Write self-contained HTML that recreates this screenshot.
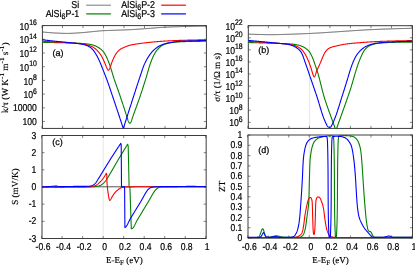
<!DOCTYPE html>
<html><head><meta charset="utf-8"><title>chart</title>
<style>html,body{margin:0;padding:0;background:#fff;}body{width:415px;height:267px;overflow:hidden;font-family:"Liberation Sans",sans-serif;}svg{display:block;will-change:transform;text-rendering:geometricPrecision}text{fill:#000;stroke:#000;stroke-width:0.22px}text.lab{stroke-width:0.15px}</style>
</head><body>
<svg width="415" height="267" viewBox="0 0 415 267">
<rect width="415" height="267" fill="#fff"/>
<defs>
<clipPath id="cpa"><rect x="42.4" y="25.6" width="164.0" height="102.80000000000001"/></clipPath>
<clipPath id="cpb"><rect x="248.3" y="25.7" width="164.09999999999997" height="102.7"/></clipPath>
<clipPath id="cpc"><rect x="42.0" y="135.5" width="164.15" height="103.0"/></clipPath>
<clipPath id="cpd"><rect x="248.0" y="135.0" width="164.5" height="103.0"/></clipPath>
</defs>
<line x1="103.50" y1="25.6" x2="103.50" y2="128.4" stroke="#cfcfcf" stroke-width="0.5"/>
<line x1="309.44" y1="25.7" x2="309.44" y2="128.4" stroke="#cfcfcf" stroke-width="0.5"/>
<line x1="103.16" y1="135.5" x2="103.16" y2="238.5" stroke="#cfcfcf" stroke-width="0.5"/>
<line x1="309.29" y1="135.0" x2="309.29" y2="238.0" stroke="#cfcfcf" stroke-width="0.5"/>
<rect x="42.4" y="25.6" width="164.0" height="102.80000000000001" fill="none" stroke="#333" stroke-width="0.95"/>
<path d="M42.00,128.4 v-2.5 M42.00,25.6 v2.5" stroke="#333" stroke-width="0.6"/>
<path d="M62.50,128.4 v-2.5 M62.50,25.6 v2.5" stroke="#333" stroke-width="0.6"/>
<path d="M83.00,128.4 v-2.5 M83.00,25.6 v2.5" stroke="#333" stroke-width="0.6"/>
<path d="M103.50,128.4 v-2.5 M103.50,25.6 v2.5" stroke="#333" stroke-width="0.6"/>
<path d="M124.00,128.4 v-2.5 M124.00,25.6 v2.5" stroke="#333" stroke-width="0.6"/>
<path d="M144.50,128.4 v-2.5 M144.50,25.6 v2.5" stroke="#333" stroke-width="0.6"/>
<path d="M165.00,128.4 v-2.5 M165.00,25.6 v2.5" stroke="#333" stroke-width="0.6"/>
<path d="M185.50,128.4 v-2.5 M185.50,25.6 v2.5" stroke="#333" stroke-width="0.6"/>
<path d="M206.00,128.4 v-2.5 M206.00,25.6 v2.5" stroke="#333" stroke-width="0.6"/>
<path d="M42.4,25.60 h2.5 M206.4,25.60 h-2.5" stroke="#333" stroke-width="0.6"/>
<text transform="translate(36.80,29.70) scale(0.86,1)" text-anchor="end" font-family="Liberation Sans, sans-serif" font-size="10.0">10<tspan dy="-4.7" font-size="8.0">16</tspan></text>
<path d="M42.4,39.31 h2.5 M206.4,39.31 h-2.5" stroke="#333" stroke-width="0.6"/>
<text transform="translate(36.80,43.41) scale(0.86,1)" text-anchor="end" font-family="Liberation Sans, sans-serif" font-size="10.0">10<tspan dy="-4.7" font-size="8.0">14</tspan></text>
<path d="M42.4,53.01 h2.5 M206.4,53.01 h-2.5" stroke="#333" stroke-width="0.6"/>
<text transform="translate(36.80,57.11) scale(0.86,1)" text-anchor="end" font-family="Liberation Sans, sans-serif" font-size="10.0">10<tspan dy="-4.7" font-size="8.0">12</tspan></text>
<path d="M42.4,66.72 h2.5 M206.4,66.72 h-2.5" stroke="#333" stroke-width="0.6"/>
<text transform="translate(36.80,70.82) scale(0.86,1)" text-anchor="end" font-family="Liberation Sans, sans-serif" font-size="10.0">10<tspan dy="-4.7" font-size="8.0">10</tspan></text>
<path d="M42.4,80.43 h2.5 M206.4,80.43 h-2.5" stroke="#333" stroke-width="0.6"/>
<text transform="translate(36.80,84.53) scale(0.86,1)" text-anchor="end" font-family="Liberation Sans, sans-serif" font-size="10.0">10<tspan dy="-4.7" font-size="8.0">8</tspan></text>
<path d="M42.4,94.13 h2.5 M206.4,94.13 h-2.5" stroke="#333" stroke-width="0.6"/>
<text transform="translate(36.80,98.23) scale(0.86,1)" text-anchor="end" font-family="Liberation Sans, sans-serif" font-size="10.0">10<tspan dy="-4.7" font-size="8.0">6</tspan></text>
<path d="M42.4,107.84 h2.5 M206.4,107.84 h-2.5" stroke="#333" stroke-width="0.6"/>
<text transform="translate(36.80,110.99) scale(0.86,1)" text-anchor="end" font-family="Liberation Sans, sans-serif" font-size="10.0">10000</text>
<path d="M42.4,121.55 h2.5 M206.4,121.55 h-2.5" stroke="#333" stroke-width="0.6"/>
<text transform="translate(36.80,124.70) scale(0.86,1)" text-anchor="end" font-family="Liberation Sans, sans-serif" font-size="10.0">100</text>
<rect x="248.3" y="25.7" width="164.09999999999997" height="102.7" fill="none" stroke="#333" stroke-width="0.95"/>
<path d="M247.90,128.4 v-2.5 M247.90,25.7 v2.5" stroke="#333" stroke-width="0.6"/>
<path d="M268.41,128.4 v-2.5 M268.41,25.7 v2.5" stroke="#333" stroke-width="0.6"/>
<path d="M288.93,128.4 v-2.5 M288.93,25.7 v2.5" stroke="#333" stroke-width="0.6"/>
<path d="M309.44,128.4 v-2.5 M309.44,25.7 v2.5" stroke="#333" stroke-width="0.6"/>
<path d="M329.95,128.4 v-2.5 M329.95,25.7 v2.5" stroke="#333" stroke-width="0.6"/>
<path d="M350.46,128.4 v-2.5 M350.46,25.7 v2.5" stroke="#333" stroke-width="0.6"/>
<path d="M370.98,128.4 v-2.5 M370.98,25.7 v2.5" stroke="#333" stroke-width="0.6"/>
<path d="M391.49,128.4 v-2.5 M391.49,25.7 v2.5" stroke="#333" stroke-width="0.6"/>
<path d="M412.00,128.4 v-2.5 M412.00,25.7 v2.5" stroke="#333" stroke-width="0.6"/>
<path d="M248.3,25.70 h2.5 M412.4,25.70 h-2.5" stroke="#333" stroke-width="0.6"/>
<text transform="translate(242.70,29.80) scale(0.86,1)" text-anchor="end" font-family="Liberation Sans, sans-serif" font-size="10.0">10<tspan dy="-4.7" font-size="8.0">22</tspan></text>
<path d="M248.3,37.78 h2.5 M412.4,37.78 h-2.5" stroke="#333" stroke-width="0.6"/>
<text transform="translate(242.70,41.88) scale(0.86,1)" text-anchor="end" font-family="Liberation Sans, sans-serif" font-size="10.0">10<tspan dy="-4.7" font-size="8.0">20</tspan></text>
<path d="M248.3,49.86 h2.5 M412.4,49.86 h-2.5" stroke="#333" stroke-width="0.6"/>
<text transform="translate(242.70,53.96) scale(0.86,1)" text-anchor="end" font-family="Liberation Sans, sans-serif" font-size="10.0">10<tspan dy="-4.7" font-size="8.0">18</tspan></text>
<path d="M248.3,61.95 h2.5 M412.4,61.95 h-2.5" stroke="#333" stroke-width="0.6"/>
<text transform="translate(242.70,66.05) scale(0.86,1)" text-anchor="end" font-family="Liberation Sans, sans-serif" font-size="10.0">10<tspan dy="-4.7" font-size="8.0">16</tspan></text>
<path d="M248.3,74.03 h2.5 M412.4,74.03 h-2.5" stroke="#333" stroke-width="0.6"/>
<text transform="translate(242.70,78.13) scale(0.86,1)" text-anchor="end" font-family="Liberation Sans, sans-serif" font-size="10.0">10<tspan dy="-4.7" font-size="8.0">14</tspan></text>
<path d="M248.3,86.11 h2.5 M412.4,86.11 h-2.5" stroke="#333" stroke-width="0.6"/>
<text transform="translate(242.70,90.21) scale(0.86,1)" text-anchor="end" font-family="Liberation Sans, sans-serif" font-size="10.0">10<tspan dy="-4.7" font-size="8.0">12</tspan></text>
<path d="M248.3,98.19 h2.5 M412.4,98.19 h-2.5" stroke="#333" stroke-width="0.6"/>
<text transform="translate(242.70,102.29) scale(0.86,1)" text-anchor="end" font-family="Liberation Sans, sans-serif" font-size="10.0">10<tspan dy="-4.7" font-size="8.0">10</tspan></text>
<path d="M248.3,110.28 h2.5 M412.4,110.28 h-2.5" stroke="#333" stroke-width="0.6"/>
<text transform="translate(242.70,114.38) scale(0.86,1)" text-anchor="end" font-family="Liberation Sans, sans-serif" font-size="10.0">10<tspan dy="-4.7" font-size="8.0">8</tspan></text>
<path d="M248.3,122.36 h2.5 M412.4,122.36 h-2.5" stroke="#333" stroke-width="0.6"/>
<text transform="translate(242.70,126.46) scale(0.86,1)" text-anchor="end" font-family="Liberation Sans, sans-serif" font-size="10.0">10<tspan dy="-4.7" font-size="8.0">6</tspan></text>
<rect x="42.0" y="135.5" width="164.15" height="103.0" fill="none" stroke="#333" stroke-width="0.95"/>
<path d="M41.60,238.5 v-2.5 M41.60,135.5 v2.5" stroke="#333" stroke-width="0.6"/>
<path d="M62.12,238.5 v-2.5 M62.12,135.5 v2.5" stroke="#333" stroke-width="0.6"/>
<path d="M82.64,238.5 v-2.5 M82.64,135.5 v2.5" stroke="#333" stroke-width="0.6"/>
<path d="M103.16,238.5 v-2.5 M103.16,135.5 v2.5" stroke="#333" stroke-width="0.6"/>
<path d="M123.67,238.5 v-2.5 M123.67,135.5 v2.5" stroke="#333" stroke-width="0.6"/>
<path d="M144.19,238.5 v-2.5 M144.19,135.5 v2.5" stroke="#333" stroke-width="0.6"/>
<path d="M164.71,238.5 v-2.5 M164.71,135.5 v2.5" stroke="#333" stroke-width="0.6"/>
<path d="M185.23,238.5 v-2.5 M185.23,135.5 v2.5" stroke="#333" stroke-width="0.6"/>
<path d="M205.75,238.5 v-2.5 M205.75,135.5 v2.5" stroke="#333" stroke-width="0.6"/>
<path d="M42.0,135.50 h2.5 M206.15,135.50 h-2.5" stroke="#333" stroke-width="0.6"/>
<text transform="translate(36.40,138.65) scale(0.86,1)" text-anchor="end" font-family="Liberation Sans, sans-serif" font-size="10.0">3</text>
<path d="M42.0,152.67 h2.5 M206.15,152.67 h-2.5" stroke="#333" stroke-width="0.6"/>
<text transform="translate(36.40,155.82) scale(0.86,1)" text-anchor="end" font-family="Liberation Sans, sans-serif" font-size="10.0">2</text>
<path d="M42.0,169.83 h2.5 M206.15,169.83 h-2.5" stroke="#333" stroke-width="0.6"/>
<text transform="translate(36.40,172.98) scale(0.86,1)" text-anchor="end" font-family="Liberation Sans, sans-serif" font-size="10.0">1</text>
<path d="M42.0,187.00 h2.5 M206.15,187.00 h-2.5" stroke="#333" stroke-width="0.6"/>
<text transform="translate(36.40,190.15) scale(0.86,1)" text-anchor="end" font-family="Liberation Sans, sans-serif" font-size="10.0">0</text>
<path d="M42.0,204.17 h2.5 M206.15,204.17 h-2.5" stroke="#333" stroke-width="0.6"/>
<text transform="translate(36.40,207.32) scale(0.86,1)" text-anchor="end" font-family="Liberation Sans, sans-serif" font-size="10.0">-1</text>
<path d="M42.0,221.33 h2.5 M206.15,221.33 h-2.5" stroke="#333" stroke-width="0.6"/>
<text transform="translate(36.40,224.48) scale(0.86,1)" text-anchor="end" font-family="Liberation Sans, sans-serif" font-size="10.0">-2</text>
<path d="M42.0,238.50 h2.5 M206.15,238.50 h-2.5" stroke="#333" stroke-width="0.6"/>
<text transform="translate(36.40,241.65) scale(0.86,1)" text-anchor="end" font-family="Liberation Sans, sans-serif" font-size="10.0">-3</text>
<text transform="translate(43.00,250.40) scale(0.86,1)" text-anchor="middle" font-family="Liberation Sans, sans-serif" font-size="10.0">-0.6</text>
<text transform="translate(63.52,250.40) scale(0.86,1)" text-anchor="middle" font-family="Liberation Sans, sans-serif" font-size="10.0">-0.4</text>
<text transform="translate(84.04,250.40) scale(0.86,1)" text-anchor="middle" font-family="Liberation Sans, sans-serif" font-size="10.0">-0.2</text>
<text transform="translate(104.56,250.40) scale(0.86,1)" text-anchor="middle" font-family="Liberation Sans, sans-serif" font-size="10.0">0</text>
<text transform="translate(125.08,250.40) scale(0.86,1)" text-anchor="middle" font-family="Liberation Sans, sans-serif" font-size="10.0">0.2</text>
<text transform="translate(145.59,250.40) scale(0.86,1)" text-anchor="middle" font-family="Liberation Sans, sans-serif" font-size="10.0">0.4</text>
<text transform="translate(166.11,250.40) scale(0.86,1)" text-anchor="middle" font-family="Liberation Sans, sans-serif" font-size="10.0">0.6</text>
<text transform="translate(186.63,250.40) scale(0.86,1)" text-anchor="middle" font-family="Liberation Sans, sans-serif" font-size="10.0">0.8</text>
<text transform="translate(207.15,250.40) scale(0.86,1)" text-anchor="middle" font-family="Liberation Sans, sans-serif" font-size="10.0">1</text>
<text x="124.38" y="262.9" text-anchor="middle" class="lab" font-family="Liberation Serif, serif" font-size="9.0">E-E<tspan dy="2.5" font-size="7">F</tspan><tspan dy="-2.5"> (eV)</tspan></text>
<rect x="248.0" y="135.0" width="164.5" height="103.0" fill="none" stroke="#333" stroke-width="0.95"/>
<path d="M247.60,238.0 v-2.5 M247.60,135.0 v2.5" stroke="#333" stroke-width="0.6"/>
<path d="M268.16,238.0 v-2.5 M268.16,135.0 v2.5" stroke="#333" stroke-width="0.6"/>
<path d="M288.73,238.0 v-2.5 M288.73,135.0 v2.5" stroke="#333" stroke-width="0.6"/>
<path d="M309.29,238.0 v-2.5 M309.29,135.0 v2.5" stroke="#333" stroke-width="0.6"/>
<path d="M329.85,238.0 v-2.5 M329.85,135.0 v2.5" stroke="#333" stroke-width="0.6"/>
<path d="M350.41,238.0 v-2.5 M350.41,135.0 v2.5" stroke="#333" stroke-width="0.6"/>
<path d="M370.98,238.0 v-2.5 M370.98,135.0 v2.5" stroke="#333" stroke-width="0.6"/>
<path d="M391.54,238.0 v-2.5 M391.54,135.0 v2.5" stroke="#333" stroke-width="0.6"/>
<path d="M412.10,238.0 v-2.5 M412.10,135.0 v2.5" stroke="#333" stroke-width="0.6"/>
<path d="M248.0,135.00 h2.5 M412.5,135.00 h-2.5" stroke="#333" stroke-width="0.6"/>
<text transform="translate(242.40,138.15) scale(0.86,1)" text-anchor="end" font-family="Liberation Sans, sans-serif" font-size="10.0">1</text>
<path d="M248.0,145.30 h2.5 M412.5,145.30 h-2.5" stroke="#333" stroke-width="0.6"/>
<text transform="translate(242.40,148.45) scale(0.86,1)" text-anchor="end" font-family="Liberation Sans, sans-serif" font-size="10.0">0.9</text>
<path d="M248.0,155.60 h2.5 M412.5,155.60 h-2.5" stroke="#333" stroke-width="0.6"/>
<text transform="translate(242.40,158.75) scale(0.86,1)" text-anchor="end" font-family="Liberation Sans, sans-serif" font-size="10.0">0.8</text>
<path d="M248.0,165.90 h2.5 M412.5,165.90 h-2.5" stroke="#333" stroke-width="0.6"/>
<text transform="translate(242.40,169.05) scale(0.86,1)" text-anchor="end" font-family="Liberation Sans, sans-serif" font-size="10.0">0.7</text>
<path d="M248.0,176.20 h2.5 M412.5,176.20 h-2.5" stroke="#333" stroke-width="0.6"/>
<text transform="translate(242.40,179.35) scale(0.86,1)" text-anchor="end" font-family="Liberation Sans, sans-serif" font-size="10.0">0.6</text>
<path d="M248.0,186.50 h2.5 M412.5,186.50 h-2.5" stroke="#333" stroke-width="0.6"/>
<text transform="translate(242.40,189.65) scale(0.86,1)" text-anchor="end" font-family="Liberation Sans, sans-serif" font-size="10.0">0.5</text>
<path d="M248.0,196.80 h2.5 M412.5,196.80 h-2.5" stroke="#333" stroke-width="0.6"/>
<text transform="translate(242.40,199.95) scale(0.86,1)" text-anchor="end" font-family="Liberation Sans, sans-serif" font-size="10.0">0.4</text>
<path d="M248.0,207.10 h2.5 M412.5,207.10 h-2.5" stroke="#333" stroke-width="0.6"/>
<text transform="translate(242.40,210.25) scale(0.86,1)" text-anchor="end" font-family="Liberation Sans, sans-serif" font-size="10.0">0.3</text>
<path d="M248.0,217.40 h2.5 M412.5,217.40 h-2.5" stroke="#333" stroke-width="0.6"/>
<text transform="translate(242.40,220.55) scale(0.86,1)" text-anchor="end" font-family="Liberation Sans, sans-serif" font-size="10.0">0.2</text>
<path d="M248.0,227.70 h2.5 M412.5,227.70 h-2.5" stroke="#333" stroke-width="0.6"/>
<text transform="translate(242.40,230.85) scale(0.86,1)" text-anchor="end" font-family="Liberation Sans, sans-serif" font-size="10.0">0.1</text>
<path d="M248.0,238.00 h2.5 M412.5,238.00 h-2.5" stroke="#333" stroke-width="0.6"/>
<text transform="translate(242.40,241.15) scale(0.86,1)" text-anchor="end" font-family="Liberation Sans, sans-serif" font-size="10.0">0</text>
<text transform="translate(249.30,250.40) scale(0.86,1)" text-anchor="middle" font-family="Liberation Sans, sans-serif" font-size="10.0">-0.6</text>
<text transform="translate(269.86,250.40) scale(0.86,1)" text-anchor="middle" font-family="Liberation Sans, sans-serif" font-size="10.0">-0.4</text>
<text transform="translate(290.43,250.40) scale(0.86,1)" text-anchor="middle" font-family="Liberation Sans, sans-serif" font-size="10.0">-0.2</text>
<text transform="translate(310.99,250.40) scale(0.86,1)" text-anchor="middle" font-family="Liberation Sans, sans-serif" font-size="10.0">0</text>
<text transform="translate(331.55,250.40) scale(0.86,1)" text-anchor="middle" font-family="Liberation Sans, sans-serif" font-size="10.0">0.2</text>
<text transform="translate(352.11,250.40) scale(0.86,1)" text-anchor="middle" font-family="Liberation Sans, sans-serif" font-size="10.0">0.4</text>
<text transform="translate(372.68,250.40) scale(0.86,1)" text-anchor="middle" font-family="Liberation Sans, sans-serif" font-size="10.0">0.6</text>
<text transform="translate(393.24,250.40) scale(0.86,1)" text-anchor="middle" font-family="Liberation Sans, sans-serif" font-size="10.0">0.8</text>
<text transform="translate(413.80,250.40) scale(0.86,1)" text-anchor="middle" font-family="Liberation Sans, sans-serif" font-size="10.0">1</text>
<text x="330.55" y="262.9" text-anchor="middle" class="lab" font-family="Liberation Serif, serif" font-size="9.0">E-E<tspan dy="2.5" font-size="7">F</tspan><tspan dy="-2.5"> (eV)</tspan></text>
<path d="M42.00,31.90 L42.50,31.96 L42.99,32.01 L43.49,32.06 L43.99,32.12 L44.48,32.17 L44.98,32.22 L45.48,32.27 L45.98,32.32 L46.47,32.37 L46.97,32.42 L47.47,32.46 L47.97,32.51 L48.46,32.55 L48.96,32.59 L49.46,32.64 L49.96,32.68 L50.45,32.71 L50.95,32.75 L51.45,32.79 L51.95,32.82 L52.45,32.86 L52.94,32.89 L53.44,32.92 L53.94,32.95 L54.44,32.97 L54.94,33.00 L55.44,33.02 L55.93,33.04 L56.43,33.07 L56.93,33.09 L57.43,33.12 L57.93,33.14 L58.43,33.16 L58.93,33.19 L59.43,33.21 L59.93,33.23 L60.42,33.25 L60.92,33.27 L61.42,33.29 L61.92,33.30 L62.42,33.32 L62.92,33.34 L63.42,33.35 L63.92,33.36 L64.42,33.37 L64.92,33.38 L65.42,33.39 L65.92,33.40 L66.42,33.40 L66.91,33.40 L67.41,33.40 L67.91,33.40 L68.41,33.39 L68.91,33.38 L69.41,33.37 L69.91,33.35 L70.41,33.34 L70.91,33.32 L71.41,33.30 L71.91,33.28 L72.40,33.26 L72.90,33.23 L73.40,33.21 L73.90,33.18 L74.40,33.15 L74.90,33.12 L75.40,33.09 L75.90,33.06 L76.40,33.03 L76.89,33.00 L77.39,32.97 L77.89,32.93 L78.39,32.90 L78.89,32.87 L79.39,32.84 L79.88,32.81 L80.38,32.78 L80.88,32.74 L81.38,32.71 L81.88,32.67 L82.37,32.63 L82.87,32.59 L83.37,32.54 L83.87,32.50 L84.36,32.45 L84.86,32.41 L85.36,32.36 L85.85,32.31 L86.35,32.26 L86.85,32.21 L87.35,32.16 L87.84,32.11 L88.34,32.06 L88.84,32.01 L89.33,31.96 L89.83,31.91 L90.33,31.86 L90.82,31.81 L91.32,31.76 L91.82,31.72 L92.32,31.67 L92.81,31.62 L93.31,31.58 L93.81,31.53 L94.31,31.48 L94.80,31.42 L95.30,31.37 L95.80,31.32 L96.29,31.27 L96.79,31.22 L97.29,31.17 L97.78,31.12 L98.28,31.07 L98.78,31.02 L99.28,30.98 L99.77,30.93 L100.27,30.89 L100.77,30.85 L101.27,30.81 L101.76,30.77 L102.26,30.74 L102.76,30.71 L103.26,30.69 L103.76,30.66 L104.25,30.64 L104.75,30.62 L105.25,30.59 L105.75,30.57 L106.25,30.55 L106.75,30.53 L107.25,30.52 L107.75,30.50 L108.24,30.48 L108.74,30.46 L109.24,30.45 L109.74,30.43 L110.24,30.42 L110.74,30.40 L111.24,30.39 L111.74,30.37 L112.24,30.36 L112.74,30.34 L113.24,30.32 L113.74,30.31 L114.24,30.29 L114.74,30.28 L115.23,30.26 L115.73,30.24 L116.23,30.23 L116.73,30.21 L117.23,30.19 L117.73,30.17 L118.23,30.16 L118.73,30.14 L119.23,30.12 L119.73,30.10 L120.23,30.08 L120.72,30.07 L121.22,30.05 L121.72,30.03 L122.22,30.01 L122.72,30.00 L123.22,29.98 L123.72,29.96 L124.22,29.94 L124.72,29.92 L125.22,29.91 L125.72,29.89 L126.21,29.87 L126.71,29.85 L127.21,29.83 L127.71,29.80 L128.21,29.78 L128.71,29.76 L129.21,29.74 L129.71,29.71 L130.20,29.69 L130.70,29.66 L131.20,29.64 L131.70,29.61 L132.20,29.58 L132.70,29.55 L133.20,29.53 L133.69,29.49 L134.19,29.46 L134.69,29.43 L135.19,29.40 L135.69,29.37 L136.19,29.33 L136.68,29.30 L137.18,29.26 L137.68,29.23 L138.18,29.19 L138.68,29.16 L139.17,29.12 L139.67,29.08 L140.17,29.04 L140.67,29.01 L141.17,28.97 L141.66,28.93 L142.16,28.89 L142.66,28.86 L143.16,28.82 L143.66,28.78 L144.15,28.74 L144.65,28.70 L145.15,28.66 L145.65,28.63 L146.15,28.59 L146.64,28.55 L147.14,28.51 L147.64,28.47 L148.14,28.44 L148.64,28.40 L149.13,28.36 L149.63,28.33 L150.13,28.29 L150.63,28.25 L151.13,28.22 L151.62,28.18 L152.12,28.14 L152.62,28.10 L153.12,28.06 L153.62,28.02 L154.11,27.98 L154.61,27.94 L155.11,27.90 L155.61,27.86 L156.11,27.82 L156.60,27.78 L157.10,27.74 L157.60,27.70 L158.10,27.66 L158.59,27.62 L159.09,27.58 L159.59,27.54 L160.09,27.51 L160.59,27.47 L161.08,27.43 L161.58,27.40 L162.08,27.37 L162.58,27.34 L163.08,27.30 L163.58,27.28 L164.07,27.25 L164.57,27.22 L165.07,27.20 L165.57,27.17 L166.07,27.15 L166.57,27.13 L167.07,27.10 L167.56,27.08 L168.06,27.06 L168.56,27.04 L169.06,27.02 L169.56,27.00 L170.06,26.98 L170.56,26.96 L171.06,26.94 L171.56,26.92 L172.05,26.90 L172.55,26.89 L173.05,26.87 L173.55,26.85 L174.05,26.83 L174.55,26.82 L175.05,26.80 L175.55,26.78 L176.05,26.77 L176.55,26.75 L177.05,26.73 L177.54,26.72 L178.04,26.70 L178.54,26.69 L179.04,26.67 L179.54,26.66 L180.04,26.64 L180.54,26.63 L181.04,26.61 L181.54,26.60 L182.04,26.58 L182.54,26.57 L183.04,26.56 L183.54,26.54 L184.03,26.53 L184.53,26.51 L185.03,26.50 L185.53,26.48 L186.03,26.47 L186.53,26.46 L187.03,26.44 L187.53,26.43 L188.03,26.42 L188.53,26.40 L189.03,26.39 L189.53,26.38 L190.02,26.36 L190.52,26.35 L191.02,26.34 L191.52,26.32 L192.02,26.31 L192.52,26.30 L193.02,26.28 L193.52,26.27 L194.02,26.26 L194.52,26.25 L195.02,26.23 L195.52,26.22 L196.01,26.21 L196.51,26.20 L197.01,26.19 L197.51,26.18 L198.01,26.16 L198.51,26.15 L199.01,26.14 L199.51,26.13 L200.01,26.12 L200.51,26.11 L201.01,26.10 L201.51,26.09 L202.01,26.08 L202.50,26.07 L203.00,26.06 L203.50,26.05 L204.00,26.04 L204.50,26.03 L205.00,26.02 L205.50,26.01 L206.00,26.00" fill="none" stroke="#555" stroke-width="1.0" stroke-linejoin="round" stroke-linecap="butt" clip-path="url(#cpa)"/>
<path d="M42.00,42.30 L42.50,42.31 L43.00,42.32 L43.50,42.33 L44.00,42.35 L44.50,42.36 L45.00,42.37 L45.50,42.38 L46.00,42.39 L46.50,42.40 L47.00,42.41 L47.50,42.43 L48.00,42.44 L48.50,42.45 L48.99,42.46 L49.49,42.47 L49.99,42.48 L50.49,42.50 L50.99,42.51 L51.49,42.52 L51.99,42.53 L52.49,42.54 L52.99,42.55 L53.49,42.56 L53.99,42.58 L54.49,42.59 L54.99,42.60 L55.49,42.61 L55.99,42.62 L56.49,42.63 L56.99,42.64 L57.49,42.66 L57.99,42.67 L58.49,42.68 L58.99,42.69 L59.49,42.70 L59.99,42.71 L60.49,42.72 L60.99,42.73 L61.49,42.74 L61.99,42.75 L62.49,42.76 L62.99,42.77 L63.48,42.78 L63.98,42.79 L64.48,42.80 L64.98,42.81 L65.48,42.82 L65.98,42.83 L66.48,42.85 L66.98,42.86 L67.48,42.87 L67.98,42.88 L68.48,42.90 L68.98,42.91 L69.48,42.92 L69.98,42.94 L70.48,42.95 L70.98,42.97 L71.48,42.98 L71.98,43.00 L72.48,43.02 L72.98,43.03 L73.48,43.05 L73.98,43.07 L74.48,43.09 L74.98,43.11 L75.48,43.13 L75.98,43.15 L76.48,43.17 L76.98,43.19 L77.48,43.22 L77.97,43.24 L78.47,43.27 L78.97,43.29 L79.47,43.32 L79.97,43.35 L80.47,43.38 L80.97,43.41 L81.47,43.44 L81.97,43.47 L82.47,43.51 L82.96,43.54 L83.46,43.58 L83.96,43.62 L84.46,43.65 L84.95,43.70 L85.45,43.74 L85.95,43.79 L86.44,43.84 L86.94,43.90 L87.44,43.97 L87.94,44.04 L88.44,44.11 L88.93,44.19 L89.43,44.28 L89.92,44.37 L90.41,44.46 L90.90,44.56 L91.39,44.66 L91.87,44.77 L92.35,44.88 L92.83,45.02 L93.30,45.16 L93.78,45.32 L94.25,45.49 L94.72,45.68 L95.19,45.87 L95.65,46.07 L96.11,46.28 L96.56,46.49 L97.01,46.70 L97.45,46.93 L97.88,47.18 L98.31,47.44 L98.74,47.71 L99.16,47.99 L99.57,48.28 L99.97,48.57 L100.36,48.88 L100.76,49.19 L101.15,49.51 L101.54,49.83 L101.91,50.17 L102.27,50.52 L102.62,50.88 L102.95,51.24 L103.26,51.62 L103.56,52.01 L103.86,52.41 L104.14,52.82 L104.42,53.24 L104.69,53.67 L104.95,54.10 L105.20,54.54 L105.45,54.98 L105.69,55.42 L105.93,55.86 L106.15,56.30 L106.38,56.74 L106.59,57.19 L106.81,57.64 L107.02,58.10 L107.22,58.55 L107.42,59.01 L107.61,59.48 L107.81,59.94 L108.00,60.41 L108.18,60.87 L108.36,61.34 L108.55,61.81 L108.72,62.27 L108.90,62.74 L109.08,63.21 L109.25,63.67 L109.42,64.14 L109.59,64.61 L109.75,65.08 L109.92,65.55 L110.08,66.02 L110.24,66.50 L110.40,66.97 L110.55,67.45 L110.71,67.92 L110.86,68.40 L111.01,68.87 L111.16,69.35 L111.31,69.83 L111.46,70.30 L111.61,70.78 L111.76,71.26 L111.91,71.74 L112.05,72.22 L112.20,72.69 L112.35,73.17 L112.49,73.65 L112.64,74.13 L112.78,74.61 L112.93,75.09 L113.08,75.57 L113.23,76.04 L113.38,76.52 L113.53,77.00 L113.68,77.48 L113.83,77.95 L113.98,78.43 L114.14,78.90 L114.29,79.38 L114.45,79.85 L114.61,80.33 L114.77,80.80 L114.93,81.27 L115.09,81.75 L115.26,82.22 L115.42,82.69 L115.58,83.16 L115.75,83.63 L115.91,84.11 L116.08,84.58 L116.25,85.05 L116.41,85.52 L116.58,85.99 L116.75,86.46 L116.91,86.93 L117.08,87.40 L117.25,87.87 L117.42,88.35 L117.58,88.82 L117.75,89.29 L117.92,89.76 L118.09,90.23 L118.25,90.70 L118.42,91.17 L118.59,91.64 L118.75,92.11 L118.92,92.59 L119.08,93.06 L119.25,93.53 L119.41,94.00 L119.58,94.47 L119.74,94.95 L119.90,95.42 L120.06,95.89 L120.22,96.36 L120.38,96.84 L120.54,97.31 L120.70,97.78 L120.86,98.26 L121.02,98.73 L121.18,99.20 L121.34,99.68 L121.50,100.15 L121.66,100.63 L121.82,101.10 L121.97,101.57 L122.13,102.05 L122.29,102.52 L122.45,103.00 L122.60,103.47 L122.76,103.95 L122.92,104.42 L123.07,104.90 L123.23,105.37 L123.39,105.85 L123.54,106.32 L123.70,106.80 L123.85,107.27 L124.01,107.75 L124.16,108.22 L124.32,108.70 L124.47,109.17 L124.63,109.65 L124.78,110.12 L124.94,110.60 L125.09,111.07 L125.25,111.55 L125.40,112.02 L125.55,112.50 L125.71,112.97 L125.86,113.45 L126.02,113.92 L126.17,114.40 L126.32,114.88 L126.48,115.35 L126.63,115.83 L126.78,116.30 L126.94,116.78 L127.09,117.25 L127.24,117.73 L127.38,118.21 L127.52,118.71 L127.65,119.20 L127.78,119.69 L127.92,120.18 L128.07,120.65 L128.24,121.12 L128.43,121.56 L128.66,122.01 L128.96,122.52 L129.31,122.98 L129.65,123.26 L129.98,123.25 L130.32,122.95 L130.66,122.48 L130.96,121.97 L131.19,121.52 L131.39,121.08 L131.57,120.62 L131.73,120.15 L131.87,119.67 L132.02,119.18 L132.16,118.69 L132.30,118.20 L132.46,117.72 L132.62,117.25 L132.79,116.78 L132.95,116.30 L133.12,115.83 L133.28,115.36 L133.45,114.89 L133.62,114.42 L133.79,113.95 L133.96,113.48 L134.12,113.01 L134.29,112.54 L134.46,112.07 L134.63,111.60 L134.80,111.13 L134.97,110.66 L135.14,110.19 L135.31,109.72 L135.48,109.25 L135.66,108.78 L135.83,108.31 L136.00,107.84 L136.17,107.37 L136.34,106.90 L136.51,106.43 L136.68,105.96 L136.85,105.49 L137.02,105.02 L137.19,104.55 L137.36,104.08 L137.53,103.61 L137.70,103.14 L137.87,102.67 L138.04,102.20 L138.21,101.73 L138.37,101.26 L138.54,100.79 L138.71,100.32 L138.87,99.84 L139.04,99.37 L139.20,98.90 L139.37,98.43 L139.53,97.96 L139.69,97.48 L139.86,97.01 L140.02,96.54 L140.18,96.07 L140.34,95.59 L140.50,95.12 L140.66,94.65 L140.81,94.17 L140.97,93.70 L141.13,93.22 L141.29,92.75 L141.44,92.27 L141.60,91.80 L141.76,91.33 L141.91,90.85 L142.07,90.38 L142.22,89.90 L142.38,89.43 L142.53,88.95 L142.69,88.47 L142.84,88.00 L142.99,87.52 L143.15,87.05 L143.30,86.57 L143.45,86.10 L143.60,85.62 L143.76,85.14 L143.91,84.67 L144.06,84.19 L144.21,83.71 L144.36,83.24 L144.51,82.76 L144.66,82.28 L144.81,81.81 L144.96,81.33 L145.11,80.85 L145.26,80.38 L145.41,79.90 L145.56,79.42 L145.71,78.95 L145.85,78.47 L146.00,77.99 L146.15,77.51 L146.29,77.04 L146.44,76.56 L146.58,76.08 L146.72,75.60 L146.86,75.12 L147.00,74.63 L147.14,74.15 L147.27,73.67 L147.41,73.19 L147.55,72.71 L147.68,72.23 L147.82,71.74 L147.95,71.26 L148.09,70.78 L148.23,70.30 L148.37,69.82 L148.51,69.34 L148.65,68.86 L148.79,68.38 L148.93,67.90 L149.08,67.43 L149.23,66.95 L149.38,66.47 L149.53,66.00 L149.68,65.52 L149.84,65.05 L150.00,64.58 L150.16,64.11 L150.33,63.64 L150.50,63.17 L150.66,62.70 L150.84,62.23 L151.01,61.76 L151.18,61.29 L151.36,60.82 L151.54,60.35 L151.73,59.88 L151.91,59.41 L152.10,58.95 L152.29,58.48 L152.49,58.02 L152.69,57.56 L152.89,57.11 L153.10,56.65 L153.31,56.20 L153.52,55.75 L153.74,55.31 L153.97,54.86 L154.20,54.43 L154.44,53.99 L154.68,53.55 L154.94,53.12 L155.20,52.69 L155.47,52.27 L155.75,51.85 L156.04,51.44 L156.33,51.03 L156.62,50.64 L156.93,50.25 L157.25,49.86 L157.58,49.48 L157.92,49.11 L158.26,48.75 L158.61,48.39 L158.97,48.03 L159.32,47.68 L159.68,47.33 L160.05,46.98 L160.42,46.64 L160.80,46.31 L161.19,46.01 L161.60,45.74 L162.02,45.47 L162.45,45.22 L162.90,44.98 L163.35,44.75 L163.81,44.54 L164.27,44.35 L164.74,44.19 L165.20,44.04 L165.68,43.89 L166.15,43.75 L166.63,43.62 L167.12,43.49 L167.61,43.37 L168.10,43.25 L168.59,43.14 L169.08,43.03 L169.58,42.93 L170.07,42.84 L170.57,42.76 L171.07,42.68 L171.56,42.61 L172.06,42.54 L172.55,42.48 L173.04,42.43 L173.54,42.38 L174.03,42.32 L174.53,42.27 L175.02,42.22 L175.52,42.18 L176.02,42.13 L176.52,42.09 L177.01,42.04 L177.51,42.00 L178.01,41.96 L178.51,41.93 L179.01,41.89 L179.51,41.86 L180.01,41.82 L180.51,41.79 L181.01,41.76 L181.51,41.74 L182.01,41.71 L182.51,41.69 L183.01,41.67 L183.51,41.65 L184.01,41.63 L184.51,41.61 L185.01,41.60 L185.51,41.59 L186.01,41.57 L186.51,41.56 L187.01,41.55 L187.51,41.54 L188.01,41.53 L188.51,41.52 L189.01,41.51 L189.51,41.49 L190.00,41.48 L190.50,41.47 L191.00,41.46 L191.50,41.45 L192.00,41.44 L192.50,41.43 L193.00,41.43 L193.50,41.42 L194.00,41.41 L194.50,41.40 L195.00,41.39 L195.50,41.38 L196.00,41.38 L196.50,41.37 L197.00,41.36 L197.50,41.36 L198.00,41.35 L198.50,41.34 L199.00,41.34 L199.50,41.33 L200.00,41.33 L200.50,41.32 L201.00,41.32 L201.50,41.32 L202.00,41.31 L202.50,41.31 L203.00,41.31 L203.50,41.31 L204.00,41.30 L204.50,41.30 L205.00,41.30 L205.50,41.30 L206.00,41.30" fill="none" stroke="#008000" stroke-width="1.1" stroke-linejoin="round" stroke-linecap="butt" clip-path="url(#cpa)"/>
<path d="M42.00,41.20 L42.50,41.23 L43.00,41.26 L43.49,41.29 L43.99,41.32 L44.49,41.36 L44.99,41.39 L45.49,41.42 L45.99,41.45 L46.48,41.48 L46.98,41.51 L47.48,41.54 L47.98,41.57 L48.48,41.60 L48.97,41.63 L49.47,41.66 L49.97,41.69 L50.47,41.72 L50.97,41.76 L51.47,41.79 L51.96,41.82 L52.46,41.85 L52.96,41.88 L53.46,41.91 L53.96,41.94 L54.45,41.97 L54.95,42.00 L55.45,42.03 L55.95,42.06 L56.45,42.09 L56.95,42.11 L57.44,42.14 L57.94,42.17 L58.44,42.20 L58.94,42.23 L59.44,42.25 L59.94,42.28 L60.43,42.31 L60.93,42.33 L61.43,42.36 L61.93,42.39 L62.43,42.42 L62.93,42.44 L63.43,42.47 L63.92,42.50 L64.42,42.53 L64.92,42.55 L65.42,42.58 L65.92,42.61 L66.42,42.64 L66.91,42.67 L67.41,42.70 L67.91,42.73 L68.41,42.76 L68.91,42.79 L69.40,42.82 L69.90,42.85 L70.40,42.89 L70.90,42.92 L71.40,42.96 L71.89,42.99 L72.39,43.03 L72.89,43.06 L73.39,43.10 L73.89,43.14 L74.39,43.17 L74.88,43.21 L75.38,43.25 L75.88,43.28 L76.38,43.32 L76.88,43.36 L77.38,43.41 L77.88,43.45 L78.37,43.50 L78.87,43.54 L79.37,43.59 L79.86,43.64 L80.36,43.70 L80.85,43.76 L81.35,43.82 L81.84,43.88 L82.33,43.95 L82.82,44.02 L83.32,44.10 L83.81,44.19 L84.31,44.28 L84.80,44.38 L85.29,44.48 L85.79,44.59 L86.28,44.71 L86.77,44.83 L87.25,44.96 L87.73,45.09 L88.21,45.23 L88.69,45.37 L89.16,45.52 L89.63,45.67 L90.09,45.83 L90.55,46.00 L91.01,46.19 L91.47,46.40 L91.92,46.62 L92.38,46.85 L92.82,47.10 L93.26,47.35 L93.69,47.62 L94.11,47.89 L94.53,48.16 L94.93,48.45 L95.32,48.74 L95.70,49.04 L96.08,49.37 L96.45,49.70 L96.81,50.05 L97.17,50.41 L97.52,50.78 L97.86,51.16 L98.19,51.54 L98.52,51.92 L98.84,52.30 L99.15,52.68 L99.45,53.07 L99.75,53.47 L100.04,53.88 L100.33,54.29 L100.61,54.71 L100.89,55.13 L101.15,55.55 L101.41,55.98 L101.67,56.41 L101.91,56.84 L102.15,57.28 L102.38,57.72 L102.61,58.16 L102.83,58.61 L103.05,59.06 L103.26,59.51 L103.46,59.96 L103.67,60.42 L103.87,60.88 L104.07,61.34 L104.27,61.80 L104.46,62.26 L104.66,62.72 L104.86,63.18 L105.06,63.64 L105.25,64.10 L105.44,64.56 L105.62,65.03 L105.80,65.50 L105.98,65.97 L106.16,66.44 L106.35,66.90 L106.54,67.36 L106.75,67.81 L106.97,68.25 L107.21,68.73 L107.48,69.29 L107.75,69.80 L108.04,70.17 L108.33,70.30 L108.64,70.11 L108.97,69.70 L109.28,69.18 L109.56,68.68 L109.78,68.25 L109.99,67.81 L110.18,67.36 L110.36,66.90 L110.53,66.43 L110.69,65.95 L110.84,65.47 L110.99,64.99 L111.14,64.51 L111.29,64.02 L111.45,63.54 L111.61,63.06 L111.77,62.59 L111.95,62.12 L112.14,61.66 L112.33,61.19 L112.52,60.73 L112.71,60.27 L112.91,59.81 L113.11,59.35 L113.31,58.89 L113.52,58.43 L113.73,57.97 L113.94,57.52 L114.16,57.07 L114.39,56.63 L114.62,56.19 L114.85,55.76 L115.10,55.33 L115.35,54.90 L115.61,54.47 L115.88,54.05 L116.16,53.62 L116.45,53.21 L116.75,52.80 L117.05,52.40 L117.37,52.01 L117.69,51.64 L118.02,51.28 L118.37,50.93 L118.73,50.59 L119.11,50.26 L119.50,49.94 L119.91,49.64 L120.32,49.34 L120.73,49.07 L121.15,48.81 L121.58,48.56 L122.02,48.33 L122.46,48.11 L122.92,47.89 L123.38,47.69 L123.84,47.49 L124.30,47.29 L124.76,47.10 L125.23,46.91 L125.69,46.72 L126.15,46.53 L126.62,46.34 L127.08,46.15 L127.55,45.97 L128.02,45.80 L128.50,45.64 L128.97,45.48 L129.45,45.34 L129.92,45.22 L130.40,45.10 L130.89,44.99 L131.37,44.89 L131.86,44.79 L132.35,44.69 L132.84,44.60 L133.33,44.51 L133.82,44.42 L134.31,44.34 L134.81,44.26 L135.30,44.18 L135.80,44.10 L136.29,44.03 L136.79,43.95 L137.28,43.88 L137.78,43.81 L138.28,43.74 L138.77,43.67 L139.27,43.60 L139.76,43.53 L140.26,43.46 L140.75,43.40 L141.24,43.33 L141.74,43.26 L142.23,43.19 L142.73,43.13 L143.22,43.06 L143.72,43.00 L144.21,42.94 L144.71,42.88 L145.21,42.82 L145.70,42.76 L146.20,42.70 L146.69,42.64 L147.19,42.59 L147.69,42.53 L148.18,42.48 L148.68,42.43 L149.18,42.38 L149.67,42.33 L150.17,42.28 L150.67,42.24 L151.16,42.19 L151.66,42.14 L152.16,42.10 L152.65,42.05 L153.15,42.01 L153.65,41.96 L154.14,41.92 L154.64,41.88 L155.14,41.83 L155.64,41.79 L156.13,41.75 L156.63,41.70 L157.13,41.66 L157.63,41.62 L158.12,41.58 L158.62,41.54 L159.12,41.50 L159.62,41.46 L160.12,41.42 L160.61,41.39 L161.11,41.35 L161.61,41.31 L162.11,41.28 L162.61,41.24 L163.10,41.21 L163.60,41.17 L164.10,41.14 L164.60,41.11 L165.10,41.07 L165.59,41.04 L166.09,41.01 L166.59,40.98 L167.09,40.95 L167.59,40.93 L168.09,40.90 L168.58,40.87 L169.08,40.85 L169.58,40.82 L170.08,40.80 L170.58,40.77 L171.07,40.75 L171.57,40.73 L172.07,40.70 L172.57,40.68 L173.07,40.66 L173.57,40.64 L174.07,40.62 L174.56,40.60 L175.06,40.58 L175.56,40.56 L176.06,40.54 L176.56,40.52 L177.06,40.50 L177.56,40.48 L178.06,40.46 L178.55,40.44 L179.05,40.42 L179.55,40.41 L180.05,40.39 L180.55,40.37 L181.05,40.36 L181.55,40.34 L182.05,40.32 L182.55,40.31 L183.05,40.29 L183.54,40.28 L184.04,40.26 L184.54,40.25 L185.04,40.23 L185.54,40.22 L186.04,40.20 L186.54,40.19 L187.04,40.18 L187.54,40.16 L188.04,40.15 L188.53,40.14 L189.03,40.12 L189.53,40.11 L190.03,40.10 L190.53,40.09 L191.03,40.08 L191.53,40.06 L192.03,40.05 L192.53,40.04 L193.02,40.03 L193.52,40.02 L194.02,40.01 L194.52,40.00 L195.02,39.99 L195.52,39.97 L196.02,39.96 L196.52,39.95 L197.02,39.94 L197.52,39.93 L198.01,39.92 L198.51,39.92 L199.01,39.91 L199.51,39.90 L200.01,39.89 L200.51,39.88 L201.01,39.87 L201.51,39.86 L202.01,39.85 L202.51,39.85 L203.01,39.84 L203.50,39.83 L204.00,39.83 L204.50,39.82 L205.00,39.81 L205.50,39.81 L206.00,39.80" fill="none" stroke="#ff0000" stroke-width="1.1" stroke-linejoin="round" stroke-linecap="butt" clip-path="url(#cpa)"/>
<path d="M42.00,39.70 L42.50,39.76 L42.99,39.82 L43.49,39.88 L43.98,39.94 L44.48,40.00 L44.98,40.06 L45.47,40.12 L45.97,40.18 L46.47,40.24 L46.96,40.29 L47.46,40.35 L47.96,40.41 L48.45,40.47 L48.95,40.53 L49.44,40.58 L49.94,40.64 L50.44,40.70 L50.93,40.75 L51.43,40.81 L51.93,40.86 L52.42,40.92 L52.92,40.97 L53.42,41.03 L53.91,41.08 L54.41,41.14 L54.91,41.19 L55.41,41.24 L55.90,41.30 L56.40,41.35 L56.90,41.40 L57.39,41.45 L57.89,41.50 L58.39,41.55 L58.89,41.60 L59.38,41.64 L59.88,41.69 L60.38,41.74 L60.88,41.79 L61.37,41.83 L61.87,41.88 L62.37,41.93 L62.87,41.98 L63.36,42.02 L63.86,42.07 L64.36,42.12 L64.86,42.16 L65.36,42.21 L65.85,42.26 L66.35,42.31 L66.85,42.36 L67.34,42.41 L67.84,42.46 L68.34,42.51 L68.84,42.56 L69.33,42.61 L69.83,42.66 L70.33,42.71 L70.82,42.77 L71.32,42.82 L71.82,42.88 L72.31,42.94 L72.81,42.99 L73.31,43.05 L73.81,43.10 L74.31,43.16 L74.80,43.21 L75.30,43.26 L75.80,43.32 L76.30,43.38 L76.80,43.43 L77.30,43.49 L77.79,43.56 L78.29,43.62 L78.78,43.69 L79.28,43.75 L79.77,43.83 L80.27,43.90 L80.76,43.98 L81.25,44.06 L81.73,44.15 L82.22,44.24 L82.71,44.34 L83.20,44.45 L83.69,44.57 L84.19,44.69 L84.68,44.83 L85.16,44.97 L85.65,45.12 L86.13,45.27 L86.60,45.44 L87.06,45.61 L87.52,45.80 L87.97,45.98 L88.41,46.19 L88.84,46.42 L89.28,46.68 L89.71,46.95 L90.13,47.24 L90.55,47.55 L90.95,47.86 L91.33,48.19 L91.70,48.52 L92.05,48.85 L92.39,49.19 L92.72,49.55 L93.04,49.92 L93.35,50.31 L93.66,50.70 L93.96,51.10 L94.25,51.52 L94.53,51.94 L94.81,52.36 L95.09,52.79 L95.36,53.23 L95.62,53.66 L95.89,54.10 L96.14,54.54 L96.39,54.97 L96.64,55.40 L96.89,55.83 L97.13,56.27 L97.37,56.71 L97.60,57.15 L97.82,57.59 L98.05,58.04 L98.27,58.49 L98.48,58.94 L98.70,59.40 L98.91,59.86 L99.11,60.31 L99.32,60.77 L99.52,61.23 L99.73,61.68 L99.93,62.14 L100.13,62.60 L100.33,63.06 L100.53,63.52 L100.72,63.98 L100.91,64.44 L101.10,64.90 L101.29,65.36 L101.47,65.83 L101.66,66.29 L101.84,66.76 L102.02,67.22 L102.21,67.69 L102.39,68.15 L102.57,68.62 L102.75,69.09 L102.93,69.55 L103.11,70.02 L103.30,70.48 L103.48,70.95 L103.66,71.41 L103.85,71.88 L104.03,72.34 L104.22,72.81 L104.40,73.27 L104.59,73.74 L104.77,74.20 L104.95,74.67 L105.14,75.13 L105.32,75.60 L105.50,76.06 L105.68,76.53 L105.86,76.99 L106.04,77.46 L106.22,77.93 L106.40,78.39 L106.58,78.86 L106.75,79.33 L106.93,79.80 L107.10,80.27 L107.27,80.74 L107.44,81.21 L107.61,81.68 L107.78,82.15 L107.94,82.62 L108.11,83.09 L108.28,83.56 L108.44,84.03 L108.61,84.50 L108.77,84.97 L108.93,85.45 L109.10,85.92 L109.26,86.39 L109.42,86.86 L109.58,87.34 L109.74,87.81 L109.90,88.28 L110.06,88.76 L110.22,89.23 L110.38,89.71 L110.54,90.18 L110.70,90.65 L110.86,91.13 L111.02,91.60 L111.18,92.07 L111.34,92.55 L111.50,93.02 L111.66,93.50 L111.82,93.97 L111.98,94.44 L112.13,94.92 L112.29,95.39 L112.45,95.86 L112.61,96.34 L112.77,96.81 L112.93,97.29 L113.09,97.76 L113.25,98.23 L113.41,98.71 L113.57,99.18 L113.73,99.65 L113.89,100.13 L114.05,100.60 L114.21,101.07 L114.37,101.55 L114.53,102.02 L114.69,102.50 L114.85,102.97 L115.01,103.44 L115.17,103.92 L115.32,104.39 L115.48,104.86 L115.64,105.34 L115.80,105.81 L115.96,106.29 L116.12,106.76 L116.28,107.23 L116.43,107.71 L116.59,108.18 L116.75,108.66 L116.91,109.13 L117.07,109.60 L117.22,110.08 L117.38,110.55 L117.54,111.03 L117.70,111.50 L117.85,111.98 L118.01,112.45 L118.17,112.93 L118.33,113.40 L118.48,113.87 L118.64,114.35 L118.80,114.82 L118.95,115.30 L119.11,115.77 L119.27,116.25 L119.42,116.72 L119.58,117.20 L119.74,117.67 L119.89,118.15 L120.05,118.62 L120.20,119.10 L120.36,119.57 L120.52,120.05 L120.67,120.52 L120.83,121.00 L120.98,121.47 L121.14,121.95 L121.29,122.42 L121.45,122.90 L121.60,123.37 L121.76,123.85 L121.91,124.32 L122.07,124.80 L122.22,125.27 L122.38,125.75 L122.53,126.22 L122.68,126.70 L122.84,127.17 L122.99,127.65 L123.15,128.12 L123.30,128.60 L123.45,128.12 L123.60,127.65 L123.75,127.17 L123.90,126.70 L124.05,126.22 L124.20,125.75 L124.34,125.27 L124.49,124.80 L124.64,124.32 L124.79,123.85 L124.94,123.37 L125.09,122.90 L125.24,122.42 L125.39,121.95 L125.54,121.47 L125.69,121.00 L125.84,120.52 L125.99,120.05 L126.14,119.57 L126.29,119.10 L126.44,118.62 L126.60,118.15 L126.75,117.67 L126.90,117.20 L127.05,116.72 L127.20,116.25 L127.35,115.77 L127.50,115.30 L127.65,114.82 L127.80,114.35 L127.95,113.87 L128.11,113.40 L128.26,112.92 L128.41,112.45 L128.56,111.97 L128.71,111.50 L128.86,111.03 L129.01,110.55 L129.17,110.08 L129.32,109.60 L129.47,109.13 L129.62,108.65 L129.77,108.18 L129.93,107.70 L130.08,107.23 L130.23,106.75 L130.38,106.28 L130.54,105.81 L130.69,105.33 L130.84,104.86 L130.99,104.38 L131.15,103.91 L131.30,103.43 L131.45,102.96 L131.60,102.49 L131.76,102.01 L131.91,101.54 L132.06,101.06 L132.22,100.59 L132.37,100.12 L132.52,99.64 L132.67,99.17 L132.83,98.69 L132.98,98.22 L133.13,97.75 L133.29,97.27 L133.44,96.80 L133.60,96.32 L133.75,95.85 L133.90,95.38 L134.06,94.90 L134.21,94.43 L134.36,93.95 L134.52,93.48 L134.67,93.01 L134.82,92.53 L134.98,92.06 L135.13,91.58 L135.28,91.11 L135.44,90.63 L135.59,90.16 L135.74,89.69 L135.90,89.21 L136.05,88.74 L136.20,88.26 L136.36,87.79 L136.51,87.32 L136.66,86.84 L136.82,86.37 L136.97,85.90 L137.13,85.42 L137.28,84.95 L137.44,84.47 L137.59,84.00 L137.75,83.53 L137.90,83.05 L138.06,82.58 L138.21,82.11 L138.37,81.63 L138.53,81.16 L138.68,80.69 L138.84,80.22 L139.00,79.74 L139.16,79.27 L139.31,78.80 L139.47,78.33 L139.63,77.85 L139.79,77.38 L139.95,76.91 L140.11,76.44 L140.27,75.97 L140.43,75.49 L140.59,75.02 L140.75,74.55 L140.91,74.08 L141.07,73.60 L141.22,73.13 L141.38,72.65 L141.53,72.18 L141.69,71.70 L141.84,71.22 L142.00,70.74 L142.15,70.27 L142.31,69.79 L142.47,69.32 L142.63,68.84 L142.79,68.37 L142.96,67.90 L143.13,67.43 L143.30,66.96 L143.47,66.50 L143.65,66.04 L143.83,65.58 L144.02,65.12 L144.21,64.66 L144.40,64.21 L144.61,63.77 L144.81,63.32 L145.02,62.87 L145.24,62.42 L145.46,61.98 L145.69,61.53 L145.92,61.09 L146.16,60.65 L146.40,60.20 L146.64,59.76 L146.89,59.33 L147.14,58.89 L147.40,58.45 L147.66,58.02 L147.92,57.59 L148.19,57.17 L148.46,56.74 L148.74,56.32 L149.01,55.90 L149.30,55.49 L149.58,55.08 L149.87,54.67 L150.16,54.27 L150.45,53.87 L150.75,53.48 L151.05,53.09 L151.35,52.71 L151.67,52.33 L151.99,51.95 L152.32,51.58 L152.66,51.21 L153.01,50.85 L153.37,50.49 L153.73,50.14 L154.09,49.80 L154.47,49.46 L154.84,49.14 L155.22,48.82 L155.60,48.51 L155.99,48.20 L156.39,47.89 L156.80,47.60 L157.21,47.31 L157.63,47.03 L158.05,46.76 L158.47,46.50 L158.90,46.25 L159.33,46.02 L159.77,45.79 L160.22,45.56 L160.67,45.34 L161.12,45.13 L161.58,44.93 L162.05,44.74 L162.51,44.55 L162.98,44.38 L163.45,44.22 L163.92,44.06 L164.39,43.92 L164.87,43.77 L165.35,43.64 L165.83,43.51 L166.32,43.38 L166.80,43.26 L167.29,43.15 L167.78,43.04 L168.26,42.95 L168.75,42.85 L169.24,42.76 L169.73,42.67 L170.22,42.58 L170.71,42.49 L171.20,42.41 L171.69,42.32 L172.18,42.24 L172.68,42.16 L173.17,42.08 L173.66,42.00 L174.16,41.93 L174.65,41.86 L175.15,41.79 L175.64,41.72 L176.14,41.66 L176.63,41.60 L177.13,41.55 L177.63,41.49 L178.12,41.45 L178.62,41.40 L179.11,41.36 L179.61,41.33 L180.11,41.29 L180.60,41.26 L181.10,41.24 L181.59,41.21 L182.09,41.18 L182.59,41.16 L183.08,41.14 L183.58,41.11 L184.08,41.09 L184.58,41.07 L185.08,41.05 L185.57,41.03 L186.07,41.01 L186.57,41.00 L187.07,40.98 L187.57,40.96 L188.07,40.95 L188.56,40.93 L189.06,40.91 L189.56,40.90 L190.06,40.88 L190.56,40.87 L191.06,40.86 L191.56,40.84 L192.05,40.83 L192.55,40.81 L193.05,40.80 L193.55,40.78 L194.05,40.77 L194.54,40.76 L195.04,40.74 L195.54,40.73 L196.04,40.72 L196.54,40.70 L197.03,40.69 L197.53,40.68 L198.03,40.66 L198.53,40.65 L199.03,40.64 L199.52,40.63 L200.02,40.62 L200.52,40.60 L201.02,40.59 L201.52,40.58 L202.01,40.57 L202.51,40.56 L203.01,40.55 L203.51,40.54 L204.01,40.53 L204.51,40.52 L205.00,40.52 L205.50,40.51 L206.00,40.50" fill="none" stroke="#0000ff" stroke-width="1.1" stroke-linejoin="round" stroke-linecap="butt" clip-path="url(#cpa)"/>
<path d="M248.00,34.10 L248.50,34.12 L249.00,34.14 L249.50,34.16 L249.99,34.18 L250.49,34.20 L250.99,34.22 L251.49,34.24 L251.99,34.26 L252.49,34.27 L252.98,34.29 L253.48,34.31 L253.98,34.33 L254.48,34.34 L254.98,34.36 L255.48,34.37 L255.97,34.39 L256.47,34.41 L256.97,34.42 L257.47,34.43 L257.97,34.45 L258.47,34.46 L258.97,34.47 L259.46,34.49 L259.96,34.50 L260.46,34.51 L260.96,34.52 L261.46,34.54 L261.96,34.55 L262.46,34.56 L262.95,34.57 L263.45,34.58 L263.95,34.60 L264.45,34.61 L264.95,34.62 L265.45,34.63 L265.95,34.64 L266.44,34.65 L266.94,34.66 L267.44,34.67 L267.94,34.68 L268.44,34.68 L268.94,34.69 L269.44,34.69 L269.93,34.70 L270.43,34.70 L270.93,34.70 L271.43,34.70 L271.93,34.70 L272.43,34.69 L272.93,34.69 L273.42,34.69 L273.92,34.68 L274.42,34.67 L274.92,34.66 L275.42,34.65 L275.92,34.64 L276.42,34.63 L276.92,34.62 L277.41,34.61 L277.91,34.60 L278.41,34.59 L278.91,34.57 L279.41,34.56 L279.91,34.54 L280.41,34.53 L280.90,34.52 L281.40,34.50 L281.90,34.49 L282.40,34.47 L282.90,34.46 L283.40,34.44 L283.90,34.43 L284.39,34.42 L284.89,34.40 L285.39,34.39 L285.89,34.38 L286.39,34.36 L286.89,34.35 L287.38,34.33 L287.88,34.32 L288.38,34.30 L288.88,34.29 L289.38,34.27 L289.88,34.25 L290.38,34.24 L290.87,34.22 L291.37,34.20 L291.87,34.19 L292.37,34.17 L292.87,34.15 L293.37,34.13 L293.86,34.12 L294.36,34.10 L294.86,34.08 L295.36,34.06 L295.86,34.04 L296.36,34.02 L296.85,34.01 L297.35,33.99 L297.85,33.97 L298.35,33.95 L298.85,33.93 L299.35,33.91 L299.84,33.89 L300.34,33.87 L300.84,33.85 L301.34,33.83 L301.84,33.81 L302.34,33.79 L302.83,33.77 L303.33,33.75 L303.83,33.73 L304.33,33.71 L304.83,33.69 L305.33,33.67 L305.82,33.65 L306.32,33.62 L306.82,33.60 L307.32,33.58 L307.82,33.56 L308.31,33.53 L308.81,33.51 L309.31,33.48 L309.81,33.46 L310.31,33.44 L310.81,33.41 L311.30,33.39 L311.80,33.36 L312.30,33.33 L312.80,33.31 L313.30,33.28 L313.79,33.25 L314.29,33.23 L314.79,33.20 L315.29,33.17 L315.78,33.14 L316.28,33.11 L316.78,33.08 L317.28,33.05 L317.78,33.03 L318.27,33.00 L318.77,32.97 L319.27,32.94 L319.77,32.91 L320.27,32.88 L320.76,32.85 L321.26,32.82 L321.76,32.78 L322.26,32.75 L322.75,32.72 L323.25,32.69 L323.75,32.66 L324.25,32.63 L324.75,32.60 L325.24,32.57 L325.74,32.53 L326.24,32.50 L326.74,32.47 L327.23,32.44 L327.73,32.41 L328.23,32.38 L328.73,32.34 L329.22,32.31 L329.72,32.28 L330.22,32.25 L330.72,32.22 L331.22,32.19 L331.71,32.15 L332.21,32.12 L332.71,32.09 L333.21,32.06 L333.70,32.02 L334.20,31.99 L334.70,31.96 L335.20,31.92 L335.69,31.89 L336.19,31.85 L336.69,31.82 L337.19,31.78 L337.68,31.75 L338.18,31.71 L338.68,31.68 L339.18,31.64 L339.67,31.61 L340.17,31.57 L340.67,31.54 L341.17,31.50 L341.66,31.47 L342.16,31.43 L342.66,31.40 L343.16,31.36 L343.65,31.33 L344.15,31.29 L344.65,31.26 L345.15,31.22 L345.64,31.19 L346.14,31.16 L346.64,31.12 L347.14,31.09 L347.63,31.06 L348.13,31.02 L348.63,30.99 L349.13,30.96 L349.62,30.92 L350.12,30.89 L350.62,30.86 L351.12,30.83 L351.62,30.80 L352.11,30.76 L352.61,30.73 L353.11,30.70 L353.61,30.67 L354.10,30.64 L354.60,30.60 L355.10,30.57 L355.60,30.54 L356.09,30.51 L356.59,30.48 L357.09,30.44 L357.59,30.41 L358.09,30.38 L358.58,30.35 L359.08,30.32 L359.58,30.29 L360.08,30.26 L360.57,30.22 L361.07,30.19 L361.57,30.16 L362.07,30.13 L362.57,30.10 L363.06,30.07 L363.56,30.05 L364.06,30.02 L364.56,29.99 L365.05,29.96 L365.55,29.93 L366.05,29.90 L366.55,29.88 L367.05,29.85 L367.54,29.82 L368.04,29.80 L368.54,29.77 L369.04,29.75 L369.54,29.72 L370.03,29.70 L370.53,29.67 L371.03,29.65 L371.53,29.63 L372.03,29.60 L372.52,29.58 L373.02,29.56 L373.52,29.54 L374.02,29.51 L374.52,29.49 L375.02,29.47 L375.51,29.45 L376.01,29.43 L376.51,29.40 L377.01,29.38 L377.51,29.36 L378.01,29.34 L378.50,29.32 L379.00,29.30 L379.50,29.28 L380.00,29.26 L380.50,29.24 L381.00,29.22 L381.49,29.20 L381.99,29.18 L382.49,29.16 L382.99,29.14 L383.49,29.13 L383.99,29.11 L384.48,29.09 L384.98,29.07 L385.48,29.05 L385.98,29.04 L386.48,29.02 L386.98,29.00 L387.47,28.98 L387.97,28.97 L388.47,28.95 L388.97,28.93 L389.47,28.92 L389.97,28.90 L390.46,28.89 L390.96,28.87 L391.46,28.85 L391.96,28.84 L392.46,28.82 L392.96,28.81 L393.46,28.79 L393.95,28.78 L394.45,28.76 L394.95,28.75 L395.45,28.73 L395.95,28.72 L396.45,28.70 L396.94,28.69 L397.44,28.67 L397.94,28.66 L398.44,28.64 L398.94,28.63 L399.44,28.61 L399.94,28.60 L400.43,28.59 L400.93,28.57 L401.43,28.56 L401.93,28.55 L402.43,28.53 L402.93,28.52 L403.43,28.51 L403.92,28.49 L404.42,28.48 L404.92,28.47 L405.42,28.46 L405.92,28.44 L406.42,28.43 L406.92,28.42 L407.41,28.41 L407.91,28.40 L408.41,28.38 L408.91,28.37 L409.41,28.36 L409.91,28.35 L410.41,28.34 L410.90,28.33 L411.40,28.32 L411.90,28.31 L412.40,28.30" fill="none" stroke="#555" stroke-width="1.0" stroke-linejoin="round" stroke-linecap="butt" clip-path="url(#cpb)"/>
<path d="M248.00,42.50 L248.50,42.52 L249.00,42.53 L249.50,42.55 L250.00,42.56 L250.49,42.58 L250.99,42.59 L251.49,42.61 L251.99,42.62 L252.49,42.64 L252.99,42.65 L253.49,42.67 L253.99,42.68 L254.49,42.70 L254.99,42.72 L255.48,42.73 L255.98,42.75 L256.48,42.76 L256.98,42.78 L257.48,42.79 L257.98,42.81 L258.48,42.82 L258.98,42.84 L259.48,42.85 L259.98,42.87 L260.47,42.88 L260.97,42.90 L261.47,42.91 L261.97,42.93 L262.47,42.94 L262.97,42.96 L263.47,42.97 L263.97,42.99 L264.47,43.00 L264.97,43.02 L265.46,43.03 L265.96,43.04 L266.46,43.06 L266.96,43.07 L267.46,43.09 L267.96,43.10 L268.46,43.12 L268.96,43.13 L269.46,43.14 L269.96,43.16 L270.45,43.17 L270.95,43.19 L271.45,43.20 L271.95,43.22 L272.45,43.23 L272.95,43.25 L273.45,43.26 L273.95,43.28 L274.45,43.30 L274.95,43.31 L275.44,43.33 L275.94,43.35 L276.44,43.36 L276.94,43.38 L277.44,43.40 L277.94,43.42 L278.44,43.43 L278.94,43.45 L279.44,43.47 L279.94,43.49 L280.43,43.50 L280.93,43.52 L281.43,43.54 L281.93,43.55 L282.43,43.57 L282.93,43.59 L283.43,43.61 L283.93,43.63 L284.43,43.65 L284.93,43.67 L285.43,43.69 L285.93,43.71 L286.43,43.73 L286.93,43.76 L287.42,43.78 L287.92,43.81 L288.42,43.84 L288.92,43.86 L289.41,43.89 L289.91,43.93 L290.41,43.96 L290.91,43.99 L291.40,44.03 L291.90,44.07 L292.40,44.12 L292.90,44.17 L293.39,44.23 L293.89,44.30 L294.39,44.36 L294.89,44.44 L295.38,44.51 L295.88,44.60 L296.37,44.68 L296.86,44.77 L297.34,44.87 L297.83,44.96 L298.31,45.07 L298.79,45.19 L299.27,45.33 L299.75,45.48 L300.22,45.64 L300.70,45.82 L301.17,46.00 L301.63,46.19 L302.09,46.39 L302.55,46.59 L303.00,46.80 L303.44,47.02 L303.89,47.25 L304.32,47.50 L304.75,47.76 L305.18,48.03 L305.59,48.31 L306.00,48.60 L306.40,48.89 L306.79,49.20 L307.19,49.52 L307.58,49.85 L307.95,50.19 L308.31,50.54 L308.65,50.90 L308.97,51.26 L309.27,51.65 L309.56,52.04 L309.84,52.45 L310.10,52.87 L310.36,53.30 L310.62,53.74 L310.86,54.19 L311.09,54.64 L311.32,55.09 L311.55,55.54 L311.76,56.00 L311.98,56.45 L312.18,56.90 L312.38,57.35 L312.57,57.81 L312.76,58.27 L312.95,58.73 L313.13,59.20 L313.30,59.66 L313.48,60.13 L313.65,60.60 L313.82,61.08 L313.98,61.55 L314.15,62.02 L314.31,62.50 L314.47,62.97 L314.64,63.44 L314.80,63.92 L314.96,64.39 L315.13,64.86 L315.29,65.33 L315.45,65.80 L315.61,66.28 L315.77,66.75 L315.94,67.22 L316.09,67.69 L316.25,68.17 L316.41,68.64 L316.57,69.12 L316.72,69.59 L316.88,70.07 L317.03,70.54 L317.18,71.02 L317.33,71.49 L317.48,71.97 L317.63,72.45 L317.78,72.92 L317.92,73.40 L318.07,73.88 L318.21,74.36 L318.35,74.84 L318.49,75.31 L318.63,75.79 L318.76,76.27 L318.90,76.75 L319.03,77.24 L319.16,77.72 L319.29,78.20 L319.42,78.68 L319.54,79.17 L319.67,79.65 L319.79,80.13 L319.91,80.62 L320.04,81.10 L320.16,81.59 L320.28,82.07 L320.40,82.56 L320.52,83.04 L320.64,83.53 L320.75,84.01 L320.87,84.50 L320.99,84.98 L321.11,85.47 L321.23,85.95 L321.35,86.44 L321.47,86.93 L321.59,87.41 L321.71,87.90 L321.83,88.38 L321.95,88.86 L322.07,89.35 L322.19,89.83 L322.32,90.32 L322.44,90.80 L322.57,91.28 L322.70,91.76 L322.83,92.25 L322.96,92.73 L323.09,93.21 L323.22,93.69 L323.36,94.17 L323.50,94.65 L323.64,95.12 L323.78,95.60 L323.92,96.08 L324.06,96.56 L324.21,97.03 L324.36,97.51 L324.50,97.99 L324.65,98.46 L324.80,98.94 L324.95,99.41 L325.10,99.89 L325.25,100.36 L325.41,100.84 L325.56,101.31 L325.72,101.78 L325.87,102.26 L326.03,102.73 L326.19,103.20 L326.35,103.68 L326.51,104.15 L326.67,104.62 L326.83,105.09 L326.99,105.57 L327.15,106.04 L327.32,106.51 L327.48,106.98 L327.64,107.45 L327.81,107.93 L327.97,108.40 L328.14,108.87 L328.31,109.34 L328.47,109.81 L328.64,110.28 L328.81,110.75 L328.98,111.22 L329.15,111.69 L329.31,112.16 L329.48,112.63 L329.65,113.10 L329.82,113.57 L329.99,114.04 L330.16,114.51 L330.33,114.98 L330.50,115.45 L330.68,115.92 L330.85,116.39 L331.02,116.86 L331.19,117.33 L331.36,117.80 L331.53,118.27 L331.70,118.74 L331.87,119.21 L332.04,119.68 L332.21,120.15 L332.38,120.62 L332.55,121.09 L332.72,121.56 L332.89,122.03 L333.06,122.50 L333.23,122.97 L333.40,123.44 L333.57,123.91 L333.74,124.38 L333.91,124.85 L334.08,125.32 L334.25,125.79 L334.41,126.26 L334.58,126.73 L334.74,127.20 L334.91,127.67 L335.08,128.14 L335.24,128.62 L335.40,129.09 L335.57,129.56 L335.73,130.03 L335.90,130.50 L336.06,130.03 L336.23,129.56 L336.39,129.08 L336.56,128.61 L336.73,128.14 L336.89,127.67 L337.06,127.20 L337.22,126.73 L337.39,126.26 L337.56,125.79 L337.73,125.31 L337.89,124.84 L338.06,124.37 L338.23,123.90 L338.39,123.43 L338.56,122.96 L338.73,122.49 L338.90,122.02 L339.06,121.55 L339.23,121.08 L339.40,120.61 L339.57,120.14 L339.74,119.67 L339.91,119.20 L340.07,118.73 L340.24,118.25 L340.41,117.78 L340.58,117.31 L340.75,116.84 L340.92,116.37 L341.09,115.90 L341.25,115.43 L341.42,114.96 L341.59,114.49 L341.76,114.02 L341.93,113.55 L342.10,113.08 L342.27,112.61 L342.43,112.14 L342.60,111.67 L342.77,111.20 L342.94,110.73 L343.11,110.26 L343.28,109.79 L343.45,109.32 L343.61,108.85 L343.78,108.38 L343.95,107.90 L344.12,107.43 L344.29,106.96 L344.45,106.49 L344.62,106.02 L344.79,105.55 L344.96,105.08 L345.12,104.61 L345.29,104.14 L345.46,103.67 L345.63,103.20 L345.79,102.73 L345.96,102.25 L346.13,101.78 L346.29,101.31 L346.46,100.84 L346.62,100.37 L346.79,99.90 L346.96,99.43 L347.12,98.96 L347.29,98.48 L347.45,98.01 L347.62,97.54 L347.78,97.07 L347.95,96.60 L348.11,96.12 L348.27,95.65 L348.44,95.18 L348.60,94.71 L348.76,94.24 L348.93,93.76 L349.09,93.29 L349.25,92.82 L349.42,92.35 L349.58,91.87 L349.74,91.40 L349.89,90.93 L350.05,90.45 L350.20,89.98 L350.36,89.50 L350.51,89.02 L350.66,88.55 L350.81,88.07 L350.95,87.59 L351.10,87.11 L351.25,86.64 L351.39,86.16 L351.54,85.68 L351.68,85.20 L351.82,84.72 L351.96,84.24 L352.11,83.76 L352.25,83.28 L352.39,82.80 L352.53,82.32 L352.67,81.84 L352.81,81.36 L352.94,80.88 L353.08,80.40 L353.22,79.92 L353.36,79.44 L353.50,78.96 L353.64,78.47 L353.77,77.99 L353.91,77.51 L354.05,77.03 L354.19,76.55 L354.33,76.07 L354.47,75.59 L354.61,75.11 L354.75,74.63 L354.89,74.15 L355.03,73.67 L355.17,73.19 L355.32,72.71 L355.46,72.23 L355.61,71.76 L355.75,71.28 L355.90,70.80 L356.04,70.32 L356.19,69.85 L356.34,69.37 L356.49,68.89 L356.65,68.42 L356.80,67.94 L356.95,67.47 L357.11,67.00 L357.27,66.52 L357.43,66.05 L357.59,65.58 L357.75,65.11 L357.91,64.64 L358.08,64.16 L358.24,63.70 L358.41,63.23 L358.59,62.76 L358.76,62.29 L358.94,61.82 L359.12,61.35 L359.30,60.89 L359.48,60.42 L359.67,59.96 L359.85,59.49 L360.04,59.03 L360.24,58.57 L360.43,58.11 L360.63,57.65 L360.83,57.19 L361.03,56.73 L361.23,56.28 L361.44,55.82 L361.64,55.36 L361.85,54.90 L362.06,54.44 L362.27,53.99 L362.49,53.53 L362.71,53.08 L362.94,52.64 L363.18,52.20 L363.43,51.77 L363.68,51.35 L363.94,50.93 L364.22,50.52 L364.52,50.12 L364.83,49.72 L365.15,49.33 L365.48,48.95 L365.82,48.58 L366.17,48.23 L366.53,47.89 L366.90,47.55 L367.28,47.22 L367.68,46.90 L368.08,46.60 L368.49,46.33 L368.92,46.07 L369.35,45.84 L369.80,45.61 L370.25,45.40 L370.71,45.20 L371.18,45.01 L371.65,44.83 L372.12,44.66 L372.59,44.50 L373.07,44.34 L373.55,44.19 L374.03,44.04 L374.51,43.91 L375.00,43.80 L375.49,43.70 L375.97,43.62 L376.46,43.54 L376.96,43.46 L377.45,43.39 L377.95,43.32 L378.44,43.26 L378.94,43.20 L379.44,43.14 L379.94,43.09 L380.44,43.04 L380.94,42.99 L381.43,42.95 L381.93,42.91 L382.43,42.87 L382.93,42.83 L383.43,42.79 L383.92,42.76 L384.42,42.72 L384.92,42.69 L385.42,42.66 L385.92,42.63 L386.42,42.61 L386.92,42.58 L387.42,42.56 L387.92,42.54 L388.42,42.52 L388.92,42.50 L389.42,42.49 L389.92,42.47 L390.41,42.46 L390.91,42.45 L391.41,42.43 L391.91,42.42 L392.41,42.40 L392.91,42.39 L393.41,42.38 L393.91,42.37 L394.41,42.35 L394.91,42.34 L395.41,42.33 L395.91,42.32 L396.41,42.30 L396.91,42.29 L397.41,42.28 L397.91,42.27 L398.40,42.26 L398.90,42.25 L399.40,42.24 L399.90,42.23 L400.40,42.22 L400.90,42.21 L401.40,42.20 L401.90,42.19 L402.40,42.19 L402.90,42.18 L403.40,42.17 L403.90,42.16 L404.40,42.16 L404.90,42.15 L405.40,42.14 L405.90,42.14 L406.40,42.13 L406.90,42.13 L407.40,42.12 L407.90,42.12 L408.40,42.11 L408.90,42.11 L409.40,42.11 L409.90,42.11 L410.40,42.10 L410.90,42.10 L411.40,42.10 L411.90,42.10 L412.40,42.10" fill="none" stroke="#008000" stroke-width="1.1" stroke-linejoin="round" stroke-linecap="butt" clip-path="url(#cpb)"/>
<path d="M248.00,41.40 L248.50,41.43 L249.00,41.46 L249.49,41.49 L249.99,41.52 L250.49,41.55 L250.99,41.58 L251.49,41.61 L251.99,41.64 L252.48,41.67 L252.98,41.70 L253.48,41.73 L253.98,41.76 L254.48,41.79 L254.97,41.82 L255.47,41.85 L255.97,41.88 L256.47,41.91 L256.97,41.95 L257.46,41.98 L257.96,42.01 L258.46,42.04 L258.96,42.07 L259.46,42.10 L259.95,42.13 L260.45,42.17 L260.95,42.20 L261.45,42.23 L261.95,42.26 L262.44,42.29 L262.94,42.32 L263.44,42.36 L263.94,42.39 L264.44,42.42 L264.93,42.45 L265.43,42.48 L265.93,42.51 L266.43,42.54 L266.93,42.58 L267.42,42.61 L267.92,42.64 L268.42,42.67 L268.92,42.70 L269.42,42.74 L269.91,42.77 L270.41,42.80 L270.91,42.83 L271.41,42.87 L271.91,42.90 L272.40,42.94 L272.90,42.97 L273.40,43.00 L273.90,43.04 L274.40,43.07 L274.89,43.11 L275.39,43.14 L275.89,43.18 L276.39,43.22 L276.88,43.25 L277.38,43.29 L277.88,43.33 L278.38,43.37 L278.88,43.40 L279.37,43.44 L279.87,43.47 L280.37,43.51 L280.87,43.54 L281.37,43.58 L281.87,43.62 L282.37,43.65 L282.87,43.69 L283.36,43.73 L283.86,43.77 L284.36,43.82 L284.86,43.86 L285.35,43.91 L285.85,43.96 L286.34,44.01 L286.84,44.06 L287.33,44.12 L287.82,44.18 L288.32,44.24 L288.81,44.31 L289.31,44.39 L289.81,44.47 L290.30,44.55 L290.80,44.64 L291.30,44.74 L291.80,44.84 L292.29,44.95 L292.78,45.07 L293.27,45.19 L293.75,45.31 L294.23,45.45 L294.71,45.58 L295.18,45.73 L295.64,45.88 L296.10,46.03 L296.55,46.21 L297.01,46.41 L297.46,46.62 L297.91,46.86 L298.36,47.11 L298.80,47.38 L299.23,47.66 L299.65,47.95 L300.05,48.24 L300.45,48.55 L300.83,48.85 L301.19,49.17 L301.54,49.49 L301.89,49.84 L302.23,50.21 L302.56,50.58 L302.88,50.97 L303.20,51.37 L303.50,51.78 L303.80,52.20 L304.09,52.61 L304.38,53.03 L304.65,53.45 L304.92,53.87 L305.18,54.29 L305.43,54.72 L305.68,55.15 L305.92,55.58 L306.15,56.03 L306.38,56.47 L306.60,56.92 L306.82,57.37 L307.03,57.83 L307.24,58.29 L307.45,58.74 L307.65,59.20 L307.85,59.66 L308.05,60.12 L308.24,60.57 L308.44,61.03 L308.63,61.49 L308.81,61.96 L308.99,62.42 L309.17,62.89 L309.35,63.35 L309.53,63.82 L309.70,64.29 L309.87,64.76 L310.04,65.23 L310.21,65.70 L310.37,66.17 L310.54,66.65 L310.70,67.12 L310.86,67.59 L311.02,68.06 L311.18,68.54 L311.32,69.01 L311.46,69.49 L311.60,69.98 L311.74,70.46 L311.87,70.94 L312.01,71.42 L312.15,71.90 L312.29,72.38 L312.43,72.86 L312.58,73.33 L312.74,73.80 L312.91,74.27 L313.09,74.75 L313.29,75.32 L313.50,75.91 L313.72,76.45 L313.95,76.84 L314.19,77.00 L314.44,76.86 L314.72,76.46 L314.99,75.93 L315.24,75.36 L315.45,74.88 L315.62,74.42 L315.78,73.94 L315.92,73.46 L316.05,72.98 L316.18,72.49 L316.33,72.01 L316.49,71.54 L316.66,71.07 L316.85,70.61 L317.05,70.15 L317.25,69.70 L317.46,69.24 L317.67,68.79 L317.88,68.34 L318.10,67.88 L318.31,67.43 L318.51,66.98 L318.71,66.52 L318.92,66.06 L319.12,65.61 L319.33,65.15 L319.53,64.70 L319.73,64.24 L319.94,63.79 L320.14,63.33 L320.34,62.87 L320.54,62.42 L320.73,61.96 L320.92,61.49 L321.11,61.03 L321.30,60.57 L321.48,60.11 L321.67,59.64 L321.86,59.18 L322.05,58.72 L322.24,58.25 L322.43,57.79 L322.63,57.34 L322.83,56.88 L323.03,56.43 L323.24,55.97 L323.45,55.51 L323.66,55.05 L323.87,54.59 L324.08,54.14 L324.31,53.69 L324.54,53.24 L324.77,52.81 L325.02,52.38 L325.29,51.97 L325.56,51.57 L325.86,51.17 L326.18,50.77 L326.51,50.38 L326.86,50.01 L327.22,49.65 L327.59,49.32 L327.97,49.02 L328.37,48.74 L328.79,48.47 L329.22,48.22 L329.67,47.98 L330.13,47.76 L330.59,47.56 L331.05,47.38 L331.51,47.22 L331.98,47.06 L332.46,46.92 L332.94,46.78 L333.42,46.65 L333.91,46.52 L334.39,46.40 L334.88,46.28 L335.37,46.17 L335.86,46.06 L336.35,45.95 L336.84,45.84 L337.33,45.73 L337.81,45.61 L338.30,45.50 L338.79,45.39 L339.27,45.28 L339.76,45.18 L340.25,45.07 L340.74,44.97 L341.23,44.87 L341.72,44.77 L342.21,44.67 L342.70,44.58 L343.19,44.49 L343.68,44.41 L344.17,44.33 L344.67,44.25 L345.16,44.18 L345.65,44.11 L346.15,44.04 L346.64,43.98 L347.13,43.91 L347.63,43.85 L348.12,43.79 L348.62,43.73 L349.12,43.67 L349.61,43.62 L350.11,43.56 L350.60,43.51 L351.10,43.46 L351.60,43.41 L352.10,43.36 L352.59,43.31 L353.09,43.26 L353.59,43.22 L354.09,43.17 L354.58,43.13 L355.08,43.08 L355.58,43.04 L356.07,42.99 L356.57,42.95 L357.07,42.91 L357.56,42.87 L358.06,42.82 L358.56,42.78 L359.06,42.74 L359.55,42.70 L360.05,42.66 L360.55,42.62 L361.05,42.58 L361.54,42.54 L362.04,42.50 L362.54,42.46 L363.04,42.42 L363.53,42.38 L364.03,42.34 L364.53,42.31 L365.03,42.27 L365.53,42.23 L366.02,42.20 L366.52,42.16 L367.02,42.13 L367.52,42.09 L368.01,42.06 L368.51,42.03 L369.01,41.99 L369.51,41.96 L370.01,41.93 L370.51,41.90 L371.00,41.87 L371.50,41.84 L372.00,41.81 L372.50,41.78 L373.00,41.75 L373.49,41.73 L373.99,41.70 L374.49,41.67 L374.99,41.65 L375.49,41.62 L375.99,41.60 L376.48,41.58 L376.98,41.55 L377.48,41.53 L377.98,41.51 L378.48,41.49 L378.98,41.47 L379.47,41.45 L379.97,41.42 L380.47,41.40 L380.97,41.38 L381.47,41.36 L381.97,41.34 L382.47,41.32 L382.97,41.30 L383.46,41.28 L383.96,41.27 L384.46,41.25 L384.96,41.23 L385.46,41.21 L385.96,41.19 L386.46,41.18 L386.96,41.16 L387.45,41.14 L387.95,41.13 L388.45,41.11 L388.95,41.09 L389.45,41.08 L389.95,41.06 L390.45,41.05 L390.95,41.03 L391.45,41.02 L391.94,41.01 L392.44,40.99 L392.94,40.98 L393.44,40.96 L393.94,40.95 L394.44,40.94 L394.94,40.93 L395.44,40.91 L395.93,40.90 L396.43,40.89 L396.93,40.88 L397.43,40.87 L397.93,40.85 L398.43,40.84 L398.93,40.83 L399.43,40.82 L399.93,40.81 L400.42,40.80 L400.92,40.79 L401.42,40.78 L401.92,40.77 L402.42,40.76 L402.92,40.75 L403.42,40.74 L403.92,40.73 L404.42,40.72 L404.92,40.71 L405.41,40.70 L405.91,40.69 L406.41,40.68 L406.91,40.68 L407.41,40.67 L407.91,40.66 L408.41,40.65 L408.91,40.64 L409.41,40.64 L409.90,40.63 L410.40,40.62 L410.90,40.62 L411.40,40.61 L411.90,40.61 L412.40,40.60" fill="none" stroke="#ff0000" stroke-width="1.1" stroke-linejoin="round" stroke-linecap="butt" clip-path="url(#cpb)"/>
<path d="M248.00,40.40 L248.50,40.44 L248.99,40.49 L249.49,40.53 L249.99,40.58 L250.49,40.63 L250.98,40.67 L251.48,40.72 L251.98,40.76 L252.47,40.81 L252.97,40.85 L253.47,40.90 L253.96,40.94 L254.46,40.99 L254.96,41.04 L255.46,41.08 L255.95,41.13 L256.45,41.17 L256.95,41.22 L257.44,41.27 L257.94,41.31 L258.44,41.36 L258.93,41.41 L259.43,41.45 L259.93,41.50 L260.42,41.55 L260.92,41.59 L261.42,41.64 L261.92,41.69 L262.41,41.73 L262.91,41.78 L263.41,41.83 L263.90,41.87 L264.40,41.92 L264.90,41.97 L265.39,42.02 L265.89,42.06 L266.39,42.11 L266.88,42.16 L267.38,42.21 L267.88,42.25 L268.37,42.30 L268.87,42.35 L269.37,42.40 L269.86,42.45 L270.36,42.49 L270.86,42.54 L271.36,42.59 L271.85,42.64 L272.35,42.69 L272.85,42.74 L273.34,42.78 L273.84,42.83 L274.34,42.88 L274.83,42.93 L275.33,42.98 L275.83,43.03 L276.32,43.08 L276.82,43.13 L277.31,43.18 L277.81,43.23 L278.31,43.28 L278.81,43.33 L279.30,43.37 L279.80,43.42 L280.30,43.46 L280.80,43.51 L281.30,43.55 L281.80,43.60 L282.30,43.64 L282.79,43.69 L283.29,43.74 L283.79,43.79 L284.28,43.84 L284.78,43.90 L285.27,43.96 L285.77,44.02 L286.26,44.09 L286.75,44.16 L287.24,44.24 L287.73,44.32 L288.22,44.42 L288.71,44.52 L289.20,44.63 L289.69,44.75 L290.18,44.88 L290.67,45.01 L291.15,45.16 L291.62,45.30 L292.09,45.46 L292.55,45.62 L293.02,45.79 L293.48,45.98 L293.94,46.19 L294.39,46.41 L294.84,46.65 L295.29,46.90 L295.72,47.15 L296.15,47.42 L296.56,47.69 L296.96,47.97 L297.35,48.26 L297.74,48.57 L298.13,48.89 L298.52,49.22 L298.90,49.57 L299.27,49.93 L299.63,50.30 L299.97,50.68 L300.30,51.06 L300.61,51.45 L300.90,51.84 L301.16,52.24 L301.41,52.64 L301.64,53.06 L301.86,53.48 L302.08,53.92 L302.28,54.36 L302.48,54.81 L302.67,55.27 L302.86,55.73 L303.04,56.20 L303.21,56.67 L303.38,57.15 L303.55,57.63 L303.72,58.12 L303.88,58.60 L304.04,59.09 L304.20,59.57 L304.36,60.06 L304.52,60.55 L304.68,61.03 L304.85,61.51 L305.01,61.98 L305.18,62.45 L305.35,62.92 L305.52,63.39 L305.69,63.86 L305.86,64.33 L306.03,64.80 L306.19,65.27 L306.36,65.74 L306.52,66.22 L306.68,66.69 L306.84,67.16 L307.01,67.63 L307.17,68.10 L307.33,68.58 L307.49,69.05 L307.65,69.52 L307.81,70.00 L307.97,70.47 L308.13,70.94 L308.29,71.41 L308.45,71.89 L308.61,72.36 L308.77,72.83 L308.93,73.30 L309.09,73.78 L309.25,74.25 L309.42,74.72 L309.58,75.19 L309.74,75.66 L309.90,76.14 L310.07,76.61 L310.23,77.08 L310.39,77.55 L310.55,78.02 L310.72,78.50 L310.88,78.97 L311.04,79.44 L311.20,79.91 L311.37,80.38 L311.53,80.86 L311.69,81.33 L311.85,81.80 L312.02,82.27 L312.18,82.74 L312.34,83.22 L312.50,83.69 L312.67,84.16 L312.83,84.63 L312.99,85.10 L313.15,85.58 L313.31,86.05 L313.48,86.52 L313.64,86.99 L313.80,87.46 L313.96,87.93 L314.13,88.41 L314.29,88.88 L314.45,89.35 L314.61,89.82 L314.78,90.29 L314.94,90.77 L315.10,91.24 L315.26,91.71 L315.43,92.18 L315.59,92.65 L315.75,93.13 L315.92,93.60 L316.08,94.07 L316.24,94.54 L316.40,95.01 L316.57,95.48 L316.73,95.96 L316.88,96.43 L317.04,96.91 L317.20,97.39 L317.35,97.86 L317.50,98.34 L317.65,98.82 L317.80,99.30 L317.95,99.79 L318.10,100.27 L318.25,100.75 L318.39,101.23 L318.54,101.72 L318.68,102.20 L318.83,102.69 L318.97,103.17 L319.11,103.66 L319.26,104.14 L319.40,104.63 L319.54,105.11 L319.69,105.60 L319.83,106.09 L319.97,106.57 L320.11,107.06 L320.26,107.54 L320.40,108.03 L320.55,108.51 L320.69,108.99 L320.84,109.48 L320.99,109.96 L321.13,110.44 L321.28,110.92 L321.43,111.41 L321.58,111.89 L321.74,112.36 L321.89,112.84 L322.04,113.32 L322.20,113.80 L322.36,114.27 L322.52,114.74 L322.68,115.22 L322.85,115.69 L323.01,116.16 L323.18,116.63 L323.35,117.09 L323.52,117.56 L323.70,118.02 L323.87,118.49 L324.05,118.95 L324.24,119.41 L324.42,119.86 L324.61,120.32 L324.80,120.77 L324.99,121.22 L325.19,121.67 L325.39,122.12 L325.60,122.56 L325.80,123.00 L326.01,123.44 L326.23,123.88 L326.45,124.31 L326.67,124.75 L326.89,125.18 L327.14,125.65 L327.40,126.11 L327.70,126.54 L328.03,126.88 L328.41,127.11 L328.89,127.31 L329.39,127.40 L329.89,127.32 L330.38,127.12 L330.75,126.89 L331.07,126.54 L331.35,126.10 L331.59,125.62 L331.83,125.15 L332.05,124.71 L332.27,124.27 L332.48,123.83 L332.69,123.39 L332.90,122.94 L333.11,122.50 L333.31,122.05 L333.51,121.60 L333.71,121.15 L333.91,120.70 L334.10,120.24 L334.29,119.79 L334.48,119.33 L334.66,118.87 L334.85,118.41 L335.03,117.95 L335.21,117.48 L335.38,117.02 L335.56,116.55 L335.73,116.09 L335.90,115.62 L336.07,115.15 L336.24,114.68 L336.41,114.21 L336.57,113.73 L336.73,113.26 L336.90,112.78 L337.06,112.31 L337.22,111.83 L337.37,111.36 L337.53,110.88 L337.69,110.40 L337.84,109.92 L337.99,109.44 L338.15,108.96 L338.30,108.48 L338.45,108.00 L338.60,107.52 L338.75,107.04 L338.90,106.56 L339.05,106.08 L339.20,105.59 L339.34,105.11 L339.49,104.63 L339.64,104.15 L339.79,103.67 L339.93,103.18 L340.08,102.70 L340.23,102.22 L340.37,101.74 L340.52,101.26 L340.67,100.77 L340.82,100.29 L340.97,99.81 L341.12,99.33 L341.26,98.85 L341.41,98.37 L341.57,97.90 L341.72,97.42 L341.87,96.94 L342.02,96.46 L342.18,95.99 L342.33,95.51 L342.49,95.04 L342.64,94.57 L342.80,94.09 L342.95,93.62 L343.11,93.14 L343.26,92.67 L343.41,92.19 L343.56,91.72 L343.71,91.24 L343.86,90.76 L344.01,90.29 L344.16,89.81 L344.31,89.34 L344.46,88.86 L344.61,88.38 L344.76,87.91 L344.91,87.43 L345.05,86.95 L345.20,86.48 L345.35,86.00 L345.50,85.52 L345.65,85.05 L345.79,84.57 L345.94,84.09 L346.09,83.62 L346.24,83.14 L346.39,82.66 L346.54,82.19 L346.69,81.71 L346.84,81.23 L346.99,80.76 L347.14,80.28 L347.28,79.80 L347.43,79.32 L347.57,78.84 L347.71,78.36 L347.86,77.89 L348.00,77.41 L348.14,76.93 L348.28,76.45 L348.42,75.97 L348.57,75.49 L348.71,75.01 L348.85,74.53 L348.99,74.05 L349.14,73.57 L349.28,73.09 L349.43,72.61 L349.57,72.13 L349.72,71.65 L349.86,71.17 L350.01,70.70 L350.16,70.22 L350.32,69.75 L350.47,69.27 L350.62,68.80 L350.78,68.32 L350.94,67.85 L351.10,67.38 L351.26,66.91 L351.43,66.44 L351.60,65.97 L351.77,65.51 L351.94,65.04 L352.12,64.58 L352.29,64.12 L352.48,63.65 L352.66,63.19 L352.85,62.72 L353.04,62.26 L353.23,61.80 L353.42,61.33 L353.62,60.87 L353.83,60.41 L354.03,59.95 L354.24,59.49 L354.46,59.04 L354.68,58.59 L354.90,58.14 L355.13,57.70 L355.36,57.26 L355.60,56.82 L355.85,56.39 L356.10,55.97 L356.35,55.55 L356.62,55.14 L356.90,54.73 L357.19,54.32 L357.49,53.92 L357.80,53.52 L358.12,53.13 L358.44,52.74 L358.77,52.36 L359.10,51.98 L359.43,51.61 L359.77,51.24 L360.11,50.88 L360.46,50.53 L360.81,50.18 L361.18,49.83 L361.55,49.49 L361.93,49.16 L362.31,48.84 L362.70,48.53 L363.09,48.23 L363.50,47.94 L363.91,47.65 L364.32,47.37 L364.75,47.10 L365.18,46.84 L365.61,46.60 L366.05,46.37 L366.50,46.15 L366.95,45.93 L367.41,45.73 L367.87,45.53 L368.33,45.35 L368.80,45.17 L369.27,45.01 L369.74,44.85 L370.21,44.69 L370.69,44.54 L371.17,44.39 L371.65,44.26 L372.14,44.12 L372.62,44.00 L373.11,43.89 L373.59,43.78 L374.08,43.68 L374.57,43.59 L375.06,43.49 L375.55,43.41 L376.04,43.32 L376.54,43.24 L377.03,43.17 L377.53,43.10 L378.02,43.03 L378.52,42.96 L379.01,42.90 L379.50,42.84 L380.00,42.78 L380.50,42.72 L380.99,42.67 L381.49,42.61 L381.99,42.56 L382.48,42.51 L382.98,42.47 L383.48,42.42 L383.98,42.38 L384.47,42.34 L384.97,42.31 L385.47,42.28 L385.97,42.24 L386.46,42.21 L386.96,42.18 L387.46,42.15 L387.96,42.12 L388.46,42.09 L388.95,42.07 L389.45,42.04 L389.95,42.01 L390.45,41.99 L390.95,41.96 L391.45,41.94 L391.94,41.91 L392.44,41.89 L392.94,41.87 L393.44,41.84 L393.94,41.82 L394.44,41.80 L394.94,41.78 L395.44,41.76 L395.94,41.74 L396.43,41.72 L396.93,41.70 L397.43,41.69 L397.93,41.67 L398.43,41.65 L398.93,41.63 L399.43,41.62 L399.93,41.60 L400.43,41.59 L400.92,41.57 L401.42,41.56 L401.92,41.54 L402.42,41.53 L402.92,41.51 L403.42,41.50 L403.92,41.48 L404.42,41.47 L404.91,41.46 L405.41,41.44 L405.91,41.43 L406.41,41.42 L406.91,41.41 L407.41,41.39 L407.91,41.38 L408.41,41.37 L408.91,41.36 L409.41,41.35 L409.90,41.34 L410.40,41.33 L410.90,41.32 L411.40,41.31 L411.90,41.31 L412.40,41.30" fill="none" stroke="#0000ff" stroke-width="1.1" stroke-linejoin="round" stroke-linecap="butt" clip-path="url(#cpb)"/>
<path d="M42.00,186.80 L206.00,186.80" fill="none" stroke="#555" stroke-width="1.0" stroke-linejoin="round" stroke-linecap="butt" clip-path="url(#cpc)"/>
<path d="M42.00,187.00 L42.51,187.00 L43.01,187.00 L43.52,187.00 L44.02,187.00 L44.52,187.00 L45.02,187.00 L45.53,187.00 L46.03,187.00 L46.53,187.00 L47.03,187.00 L47.52,187.00 L48.02,187.00 L48.52,187.00 L49.02,187.00 L49.51,187.00 L50.01,187.00 L50.50,187.00 L51.00,187.00 L51.49,187.00 L51.99,187.00 L52.48,187.00 L52.98,187.00 L53.47,187.04 L53.96,187.14 L54.45,187.28 L54.93,187.43 L55.42,187.54 L55.91,187.60 L56.40,187.57 L56.89,187.48 L57.38,187.34 L57.86,187.20 L58.35,187.08 L58.84,187.01 L59.34,186.99 L59.83,186.99 L60.33,186.98 L60.82,186.98 L61.32,186.97 L61.81,186.96 L62.31,186.96 L62.81,186.96 L63.30,186.95 L63.80,186.95 L64.30,186.94 L64.80,186.94 L65.30,186.94 L65.80,186.94 L66.30,186.93 L66.80,186.93 L67.30,186.93 L67.80,186.93 L68.30,186.93 L68.80,186.92 L69.30,186.92 L69.80,186.92 L70.30,186.92 L70.81,186.92 L71.31,186.92 L71.81,186.91 L72.31,186.91 L72.81,186.91 L73.31,186.91 L73.81,186.91 L74.31,186.90 L74.81,186.90 L75.30,186.90 L75.80,186.90 L76.30,186.89 L76.80,186.89 L77.30,186.89 L77.80,186.89 L78.30,186.88 L78.80,186.88 L79.30,186.88 L79.80,186.88 L80.30,186.88 L80.80,186.88 L81.30,186.87 L81.79,186.87 L82.29,186.87 L82.79,186.87 L83.29,186.87 L83.79,186.86 L84.29,186.86 L84.79,186.86 L85.29,186.86 L85.79,186.85 L86.29,186.85 L86.79,186.85 L87.28,186.85 L87.78,186.84 L88.28,186.84 L88.78,186.83 L89.28,186.83 L89.78,186.83 L90.27,186.82 L90.77,186.82 L91.27,186.81 L91.77,186.80 L92.26,186.79 L92.76,186.78 L93.26,186.75 L93.76,186.71 L94.26,186.66 L94.76,186.61 L95.25,186.55 L95.75,186.48 L96.24,186.41 L96.74,186.34 L97.22,186.26 L97.72,186.17 L98.21,186.06 L98.70,185.93 L99.18,185.79 L99.65,185.63 L100.11,185.46 L100.55,185.26 L100.99,185.02 L101.42,184.76 L101.84,184.47 L102.26,184.18 L102.66,183.87 L103.04,183.56 L103.42,183.24 L103.79,182.90 L104.15,182.55 L104.49,182.18 L104.82,181.81 L105.14,181.43 L105.45,181.04 L105.74,180.64 L106.03,180.24 L106.32,179.82 L106.59,179.40 L106.87,178.98 L107.14,178.56 L107.41,178.14 L107.68,177.72 L107.95,177.30 L108.21,176.88 L108.47,176.45 L108.73,176.03 L108.99,175.60 L109.24,175.17 L109.50,174.74 L109.75,174.31 L110.01,173.88 L110.26,173.46 L110.52,173.03 L110.77,172.60 L111.02,172.17 L111.28,171.74 L111.53,171.31 L111.78,170.87 L112.03,170.44 L112.28,170.01 L112.53,169.58 L112.78,169.15 L113.03,168.71 L113.27,168.28 L113.52,167.85 L113.77,167.42 L114.02,166.98 L114.26,166.55 L114.51,166.12 L114.76,165.68 L115.01,165.25 L115.26,164.82 L115.50,164.38 L115.75,163.95 L116.00,163.52 L116.25,163.09 L116.50,162.66 L116.75,162.23 L117.00,161.79 L117.26,161.36 L117.51,160.93 L117.76,160.50 L118.02,160.07 L118.27,159.65 L118.52,159.22 L118.78,158.79 L119.04,158.36 L119.29,157.93 L119.55,157.50 L119.80,157.07 L120.06,156.65 L120.32,156.22 L120.57,155.79 L120.83,155.36 L121.09,154.94 L121.34,154.51 L121.60,154.08 L121.86,153.65 L122.12,153.23 L122.38,152.80 L122.63,152.37 L122.89,151.95 L123.15,151.52 L123.41,151.10 L123.67,150.67 L123.93,150.24 L124.19,149.82 L124.45,149.39 L124.71,148.97 L124.98,148.54 L125.24,148.12 L125.50,147.69 L125.76,147.27 L126.02,146.84 L126.28,146.42 L126.55,146.00 L126.81,145.57 L127.07,145.15 L127.34,144.72 L127.60,144.30 L128.20,146.00 L129.10,186.70 L129.90,186.70 L131.30,228.80 L131.81,228.67 L132.20,228.49 L132.55,228.26 L132.87,227.99 L133.18,227.67 L133.48,227.31 L133.76,226.93 L134.02,226.51 L134.28,226.07 L134.53,225.61 L134.77,225.13 L135.00,224.64 L135.23,224.14 L135.46,223.63 L135.68,223.12 L135.91,222.62 L136.14,222.13 L136.38,221.64 L136.62,221.17 L136.87,220.72 L137.13,220.29 L137.39,219.87 L137.65,219.44 L137.90,219.01 L138.16,218.59 L138.42,218.16 L138.68,217.73 L138.94,217.30 L139.20,216.88 L139.46,216.45 L139.72,216.02 L139.97,215.59 L140.23,215.17 L140.49,214.74 L140.75,214.31 L141.00,213.88 L141.26,213.45 L141.52,213.03 L141.78,212.60 L142.03,212.17 L142.29,211.74 L142.55,211.31 L142.80,210.88 L143.06,210.46 L143.32,210.03 L143.57,209.60 L143.83,209.17 L144.08,208.74 L144.34,208.31 L144.60,207.88 L144.85,207.45 L145.11,207.03 L145.36,206.60 L145.62,206.17 L145.88,205.74 L146.13,205.31 L146.39,204.88 L146.64,204.45 L146.90,204.02 L147.16,203.59 L147.41,203.16 L147.67,202.74 L147.92,202.31 L148.18,201.88 L148.44,201.45 L148.69,201.02 L148.95,200.59 L149.20,200.16 L149.46,199.73 L149.71,199.30 L149.96,198.87 L150.21,198.43 L150.46,198.00 L150.70,197.56 L150.95,197.12 L151.19,196.68 L151.44,196.25 L151.68,195.81 L151.93,195.37 L152.18,194.94 L152.43,194.51 L152.69,194.08 L152.95,193.65 L153.21,193.23 L153.48,192.81 L153.75,192.40 L154.03,191.99 L154.31,191.58 L154.61,191.18 L154.91,190.78 L155.22,190.38 L155.54,190.00 L155.88,189.63 L156.22,189.27 L156.58,188.91 L156.95,188.56 L157.34,188.25 L157.74,187.97 L158.17,187.73 L158.63,187.51 L159.10,187.32 L159.58,187.18 L160.06,187.07 L160.55,186.97 L161.05,186.88 L161.55,186.82 L162.05,186.80 L162.54,186.79 L163.04,186.78 L163.53,186.77 L164.03,186.77 L164.53,186.76 L165.03,186.75 L165.53,186.75 L166.03,186.74 L166.53,186.74 L167.03,186.73 L167.53,186.73 L168.03,186.72 L168.53,186.72 L169.03,186.72 L169.53,186.71 L170.03,186.71 L170.53,186.71 L171.03,186.71 L171.53,186.71 L172.03,186.70 L172.53,186.70 L173.03,186.70 L173.53,186.70 L174.03,186.70 L174.53,186.70 L175.03,186.70 L175.53,186.70 L176.03,186.70 L176.53,186.70 L177.03,186.70 L177.53,186.70 L178.03,186.70 L178.53,186.70 L179.03,186.70 L179.53,186.70 L180.03,186.70 L180.53,186.70 L181.03,186.70 L181.52,186.70 L182.02,186.70 L182.52,186.70 L183.02,186.70 L183.52,186.70 L184.02,186.70 L184.52,186.70 L185.02,186.70 L185.52,186.70 L186.02,186.70 L186.52,186.70 L187.02,186.70 L187.52,186.70 L188.02,186.70 L188.52,186.70 L189.02,186.70 L189.52,186.70 L190.02,186.70 L190.52,186.70 L191.02,186.70 L191.51,186.70 L192.01,186.70 L192.51,186.70 L193.01,186.70 L193.51,186.70 L194.01,186.70 L194.51,186.70 L195.01,186.70 L195.51,186.70 L196.01,186.70 L196.51,186.70 L197.01,186.70 L197.51,186.70 L198.01,186.70 L198.51,186.70 L199.01,186.70 L199.51,186.70 L200.01,186.70 L200.51,186.70 L201.01,186.70 L201.50,186.70 L202.00,186.70 L202.50,186.70 L203.00,186.70 L203.50,186.70 L204.00,186.70 L204.50,186.70 L205.00,186.70 L205.50,186.70 L206.00,186.70" fill="none" stroke="#008000" stroke-width="1.1" stroke-linejoin="round" stroke-linecap="butt" clip-path="url(#cpc)"/>
<path d="M42.00,187.00 L42.50,187.01 L43.00,187.03 L43.49,187.04 L43.99,187.05 L44.49,187.06 L44.99,187.08 L45.48,187.09 L45.98,187.10 L46.48,187.11 L46.98,187.12 L47.47,187.13 L47.97,187.13 L48.47,187.14 L48.97,187.15 L49.46,187.16 L49.96,187.16 L50.46,187.17 L50.96,187.17 L51.45,187.18 L51.95,187.18 L52.45,187.19 L52.95,187.19 L53.44,187.19 L53.94,187.20 L54.44,187.20 L54.94,187.20 L55.43,187.20 L55.93,187.20 L56.43,187.20 L56.93,187.20 L57.42,187.20 L57.92,187.19 L58.42,187.19 L58.92,187.18 L59.41,187.18 L59.91,187.17 L60.41,187.17 L60.91,187.16 L61.40,187.15 L61.90,187.14 L62.40,187.14 L62.90,187.13 L63.39,187.12 L63.89,187.11 L64.39,187.10 L64.89,187.09 L65.38,187.08 L65.88,187.07 L66.38,187.06 L66.88,187.05 L67.37,187.04 L67.87,187.03 L68.37,187.03 L68.87,187.02 L69.36,187.01 L69.86,187.00 L70.36,186.99 L70.86,186.99 L71.36,186.98 L71.85,186.98 L72.35,186.97 L72.85,186.96 L73.35,186.96 L73.85,186.95 L74.35,186.95 L74.85,186.95 L75.34,186.94 L75.84,186.94 L76.34,186.93 L76.84,186.93 L77.34,186.92 L77.84,186.92 L78.34,186.91 L78.84,186.91 L79.34,186.91 L79.83,186.90 L80.33,186.89 L80.83,186.89 L81.33,186.88 L81.83,186.88 L82.33,186.87 L82.82,186.86 L83.32,186.86 L83.82,186.85 L84.32,186.84 L84.81,186.83 L85.31,186.82 L85.81,186.81 L86.30,186.80 L86.80,186.79 L87.29,186.78 L87.79,186.77 L88.28,186.75 L88.78,186.74 L89.27,186.72 L89.77,186.71 L90.26,186.69 L90.75,186.65 L91.25,186.59 L91.75,186.51 L92.24,186.42 L92.73,186.31 L93.22,186.20 L93.70,186.08 L94.17,185.95 L94.64,185.80 L95.10,185.61 L95.56,185.40 L96.02,185.17 L96.46,184.93 L96.88,184.67 L97.29,184.41 L97.69,184.13 L98.08,183.82 L98.46,183.49 L98.83,183.15 L99.19,182.80 L99.55,182.45 L99.91,182.09 L100.26,181.74 L100.60,181.39 L100.95,181.03 L101.29,180.66 L101.63,180.29 L101.96,179.91 L102.28,179.53 L102.59,179.14 L102.90,178.75 L103.19,178.35 L103.47,177.95 L103.75,177.55 L104.03,177.13 L104.29,176.72 L104.55,176.30 L104.81,175.87 L105.06,175.44 L105.30,175.00 L105.54,174.56 L105.77,174.11 L105.99,173.66 L106.20,173.20 L106.80,175.00 L106.80,175.53 L106.80,176.06 L106.81,176.59 L106.82,177.12 L106.83,177.65 L106.84,178.17 L106.85,178.69 L106.87,179.21 L106.88,179.73 L106.90,180.24 L106.93,180.76 L106.95,181.27 L106.97,181.78 L107.00,182.29 L107.03,182.80 L107.06,183.31 L107.10,183.81 L107.13,184.32 L107.17,184.82 L107.21,185.32 L107.25,185.82 L107.30,186.32 L107.34,186.81 L107.39,187.31 L107.44,187.80 L107.49,188.29 L107.54,188.78 L107.60,189.27 L107.66,189.76 L107.72,190.25 L107.78,190.74 L107.84,191.22 L107.91,191.71 L107.97,192.19 L108.04,192.67 L108.11,193.15 L108.19,193.63 L108.26,194.11 L108.34,194.59 L108.42,195.07 L108.50,195.54 L108.58,196.02 L108.66,196.49 L108.75,196.97 L108.84,197.44 L108.93,197.91 L109.02,198.38 L109.11,198.86 L109.25,199.43 L109.46,200.00 L109.70,200.36 L110.00,200.30 L110.38,199.88 L110.70,199.46 L110.96,199.04 L111.19,198.60 L111.41,198.15 L111.63,197.69 L111.86,197.24 L112.11,196.81 L112.37,196.38 L112.63,195.96 L112.90,195.53 L113.17,195.11 L113.45,194.69 L113.73,194.27 L114.02,193.87 L114.32,193.46 L114.62,193.07 L114.93,192.68 L115.25,192.31 L115.58,191.93 L115.93,191.57 L116.28,191.21 L116.64,190.86 L117.02,190.53 L117.39,190.21 L117.78,189.89 L118.17,189.58 L118.58,189.28 L118.99,188.99 L119.42,188.72 L119.85,188.48 L120.29,188.26 L120.74,188.05 L121.21,187.85 L121.68,187.66 L122.16,187.50 L122.64,187.37 L123.12,187.28 L123.61,187.21 L124.10,187.14 L124.60,187.07 L125.10,187.02 L125.60,186.97 L126.10,186.94 L126.60,186.91 L127.10,186.90 L127.60,186.89 L128.10,186.88 L128.59,186.88 L129.09,186.87 L129.59,186.86 L130.09,186.86 L130.59,186.85 L131.09,186.85 L131.59,186.84 L132.09,186.84 L132.59,186.84 L133.09,186.83 L133.59,186.83 L134.09,186.83 L134.59,186.82 L135.09,186.82 L135.59,186.82 L136.09,186.82 L136.59,186.82 L137.09,186.81 L137.59,186.81 L138.08,186.81 L138.58,186.81 L139.08,186.80 L139.58,186.80 L140.08,186.80 L140.58,186.80 L141.08,186.79 L141.58,186.79 L142.08,186.79 L142.58,186.79 L143.08,186.79 L143.58,186.78 L144.08,186.78 L144.58,186.78 L145.08,186.78 L145.58,186.78 L146.08,186.77 L146.57,186.77 L147.07,186.77 L147.57,186.77 L148.07,186.77 L148.57,186.76 L149.07,186.76 L149.57,186.76 L150.07,186.76 L150.57,186.76 L151.07,186.76 L151.57,186.75 L152.07,186.75 L152.57,186.75 L153.07,186.75 L153.57,186.75 L154.07,186.75 L154.56,186.74 L155.06,186.74 L155.56,186.74 L156.06,186.74 L156.56,186.74 L157.06,186.74 L157.56,186.74 L158.06,186.73 L158.56,186.73 L159.06,186.73 L159.56,186.73 L160.06,186.73 L160.56,186.73 L161.06,186.73 L161.56,186.72 L162.06,186.72 L162.55,186.72 L163.05,186.72 L163.55,186.72 L164.05,186.72 L164.55,186.72 L165.05,186.71 L165.55,186.71 L166.05,186.71 L166.55,186.71 L167.05,186.71 L167.55,186.71 L168.05,186.71 L168.55,186.70 L169.05,186.70 L169.55,186.70 L170.05,186.70 L170.54,186.70 L171.04,186.70 L171.54,186.70 L172.04,186.69 L172.54,186.69 L173.04,186.69 L173.54,186.69 L174.04,186.69 L174.54,186.69 L175.04,186.68 L175.54,186.68 L176.04,186.68 L176.54,186.68 L177.04,186.68 L177.54,186.68 L178.04,186.68 L178.53,186.67 L179.03,186.67 L179.53,186.67 L180.03,186.67 L180.53,186.67 L181.03,186.67 L181.53,186.67 L182.03,186.66 L182.53,186.66 L183.03,186.66 L183.53,186.66 L184.03,186.66 L184.53,186.66 L185.03,186.66 L185.53,186.65 L186.03,186.65 L186.52,186.65 L187.02,186.65 L187.52,186.65 L188.02,186.65 L188.52,186.65 L189.02,186.64 L189.52,186.64 L190.02,186.64 L190.52,186.64 L191.02,186.64 L191.52,186.64 L192.02,186.64 L192.52,186.64 L193.02,186.63 L193.52,186.63 L194.02,186.63 L194.51,186.63 L195.01,186.63 L195.51,186.63 L196.01,186.63 L196.51,186.62 L197.01,186.62 L197.51,186.62 L198.01,186.62 L198.51,186.62 L199.01,186.62 L199.51,186.62 L200.01,186.62 L200.51,186.61 L201.01,186.61 L201.51,186.61 L202.01,186.61 L202.50,186.61 L203.00,186.61 L203.50,186.61 L204.00,186.60 L204.50,186.60 L205.00,186.60 L205.50,186.60 L206.00,186.60" fill="none" stroke="#ff0000" stroke-width="1.1" stroke-linejoin="round" stroke-linecap="butt" clip-path="url(#cpc)"/>
<path d="M42.00,186.90 L42.50,186.88 L43.00,186.86 L43.49,186.84 L43.99,186.81 L44.49,186.79 L44.99,186.77 L45.48,186.74 L45.98,186.72 L46.48,186.69 L46.97,186.67 L47.47,186.64 L47.97,186.61 L48.47,186.59 L48.96,186.56 L49.46,186.53 L49.96,186.50 L50.45,186.47 L50.95,186.43 L51.45,186.39 L51.95,186.35 L52.44,186.31 L52.94,186.26 L53.44,186.22 L53.94,186.18 L54.43,186.15 L54.93,186.12 L55.42,186.11 L55.92,186.10 L56.41,186.11 L56.91,186.17 L57.40,186.24 L57.90,186.33 L58.39,186.42 L58.88,186.51 L59.38,186.57 L59.87,186.60 L60.37,186.60 L60.86,186.60 L61.36,186.60 L61.86,186.59 L62.35,186.59 L62.85,186.59 L63.35,186.58 L63.85,186.57 L64.34,186.57 L64.84,186.56 L65.34,186.55 L65.84,186.55 L66.34,186.54 L66.83,186.53 L67.33,186.52 L67.83,186.51 L68.33,186.50 L68.83,186.49 L69.33,186.49 L69.82,186.48 L70.32,186.47 L70.82,186.46 L71.32,186.45 L71.82,186.44 L72.32,186.43 L72.82,186.43 L73.31,186.42 L73.81,186.41 L74.31,186.41 L74.81,186.40 L75.31,186.40 L75.81,186.39 L76.30,186.39 L76.80,186.39 L77.30,186.38 L77.80,186.38 L78.30,186.38 L78.80,186.37 L79.30,186.37 L79.80,186.37 L80.30,186.37 L80.80,186.37 L81.30,186.36 L81.80,186.36 L82.29,186.36 L82.79,186.36 L83.29,186.35 L83.79,186.35 L84.29,186.35 L84.78,186.34 L85.28,186.34 L85.78,186.33 L86.27,186.33 L86.77,186.32 L87.26,186.31 L87.76,186.30 L88.25,186.29 L88.75,186.26 L89.26,186.20 L89.76,186.13 L90.26,186.03 L90.75,185.93 L91.24,185.81 L91.71,185.68 L92.16,185.55 L92.61,185.36 L93.05,185.13 L93.48,184.85 L93.90,184.55 L94.30,184.22 L94.68,183.89 L95.04,183.56 L95.37,183.22 L95.69,182.86 L96.00,182.48 L96.29,182.08 L96.58,181.67 L96.85,181.25 L97.13,180.82 L97.39,180.38 L97.66,179.95 L97.92,179.51 L98.19,179.08 L98.46,178.66 L98.73,178.24 L99.00,177.82 L99.27,177.40 L99.53,176.98 L99.79,176.56 L100.05,176.13 L100.31,175.70 L100.56,175.28 L100.82,174.85 L101.08,174.42 L101.33,174.00 L101.59,173.57 L101.85,173.14 L102.11,172.72 L102.37,172.30 L102.63,171.87 L102.89,171.45 L103.15,171.02 L103.41,170.60 L103.67,170.17 L103.93,169.75 L104.19,169.32 L104.45,168.90 L104.71,168.47 L104.97,168.05 L105.23,167.62 L105.49,167.20 L105.75,166.77 L106.01,166.35 L106.27,165.92 L106.53,165.50 L106.79,165.07 L107.05,164.65 L107.31,164.22 L107.57,163.80 L107.83,163.38 L108.09,162.95 L108.35,162.53 L108.62,162.11 L108.88,161.68 L109.14,161.26 L109.41,160.84 L109.67,160.42 L109.94,160.00 L110.21,159.58 L110.47,159.16 L110.74,158.73 L111.00,158.31 L111.27,157.89 L111.54,157.47 L111.81,157.05 L112.07,156.63 L112.34,156.22 L112.61,155.80 L112.88,155.38 L113.15,154.96 L113.42,154.54 L113.69,154.12 L113.96,153.70 L114.23,153.28 L114.50,152.87 L114.77,152.45 L115.04,152.03 L115.31,151.61 L115.58,151.19 L115.85,150.78 L116.13,150.36 L116.40,149.94 L116.67,149.53 L116.95,149.11 L117.22,148.69 L117.49,148.28 L117.77,147.86 L118.04,147.45 L118.31,147.03 L118.59,146.62 L118.86,146.20 L119.14,145.79 L119.42,145.37 L119.69,144.96 L119.97,144.54 L120.25,144.13 L120.52,143.71 L120.80,143.30 L121.20,144.80 L121.50,186.70 L124.60,186.70 L124.90,227.60 L125.33,227.33 L125.68,227.02 L126.00,226.68 L126.29,226.31 L126.58,225.92 L126.84,225.52 L127.10,225.10 L127.34,224.66 L127.58,224.22 L127.81,223.76 L128.04,223.30 L128.26,222.83 L128.47,222.36 L128.69,221.89 L128.91,221.42 L129.13,220.95 L129.36,220.49 L129.59,220.03 L129.83,219.59 L130.08,219.16 L130.34,218.73 L130.59,218.30 L130.84,217.87 L131.10,217.44 L131.36,217.01 L131.61,216.58 L131.87,216.16 L132.13,215.73 L132.38,215.30 L132.64,214.88 L132.90,214.45 L133.16,214.02 L133.42,213.60 L133.68,213.17 L133.95,212.75 L134.21,212.32 L134.47,211.90 L134.73,211.47 L134.99,211.05 L135.25,210.62 L135.52,210.20 L135.78,209.77 L136.04,209.35 L136.30,208.92 L136.56,208.50 L136.83,208.07 L137.09,207.65 L137.35,207.22 L137.61,206.80 L137.87,206.37 L138.13,205.95 L138.39,205.52 L138.65,205.10 L138.91,204.67 L139.17,204.24 L139.43,203.82 L139.69,203.39 L139.94,202.96 L140.20,202.53 L140.46,202.11 L140.71,201.68 L140.97,201.25 L141.22,200.82 L141.47,200.39 L141.72,199.96 L141.97,199.53 L142.22,199.09 L142.46,198.66 L142.71,198.22 L142.95,197.78 L143.19,197.34 L143.42,196.90 L143.66,196.46 L143.90,196.03 L144.14,195.59 L144.39,195.15 L144.63,194.72 L144.88,194.28 L145.13,193.85 L145.39,193.43 L145.65,193.00 L145.91,192.58 L146.18,192.16 L146.45,191.73 L146.72,191.30 L146.99,190.88 L147.28,190.47 L147.58,190.07 L147.90,189.70 L148.24,189.35 L148.61,189.01 L149.00,188.68 L149.41,188.37 L149.83,188.10 L150.26,187.87 L150.71,187.67 L151.17,187.48 L151.66,187.31 L152.14,187.18 L152.63,187.10 L153.12,187.03 L153.61,186.98 L154.10,186.92 L154.60,186.88 L155.10,186.84 L155.60,186.80 L156.10,186.77 L156.60,186.74 L157.10,186.72 L157.61,186.71 L158.10,186.70 L158.60,186.69 L159.10,186.69 L159.60,186.68 L160.10,186.68 L160.60,186.67 L161.09,186.67 L161.59,186.66 L162.09,186.66 L162.59,186.66 L163.09,186.66 L163.59,186.65 L164.09,186.65 L164.59,186.65 L165.09,186.65 L165.58,186.64 L166.08,186.64 L166.58,186.64 L167.08,186.64 L167.58,186.64 L168.08,186.63 L168.58,186.63 L169.08,186.63 L169.58,186.63 L170.08,186.63 L170.58,186.63 L171.08,186.62 L171.57,186.62 L172.07,186.62 L172.57,186.62 L173.07,186.61 L173.57,186.61 L174.07,186.61 L174.57,186.60 L175.07,186.60 L175.57,186.59 L176.07,186.59 L176.56,186.58 L177.06,186.58 L177.56,186.57 L178.06,186.56 L178.56,186.55 L179.06,186.55 L179.56,186.54 L180.06,186.53 L180.56,186.52 L181.06,186.51 L181.55,186.50 L182.05,186.49 L182.55,186.48 L183.05,186.47 L183.55,186.47 L184.05,186.46 L184.55,186.45 L185.05,186.44 L185.55,186.43 L186.04,186.43 L186.54,186.42 L187.04,186.42 L187.54,186.41 L188.04,186.41 L188.54,186.40 L189.04,186.40 L189.54,186.40 L190.04,186.40 L190.53,186.40 L191.03,186.40 L191.53,186.40 L192.03,186.40 L192.53,186.40 L193.03,186.41 L193.53,186.41 L194.03,186.41 L194.53,186.42 L195.02,186.42 L195.52,186.42 L196.02,186.43 L196.52,186.43 L197.02,186.44 L197.52,186.44 L198.02,186.45 L198.52,186.45 L199.02,186.46 L199.51,186.47 L200.01,186.48 L200.51,186.48 L201.01,186.49 L201.51,186.50 L202.01,186.51 L202.51,186.52 L203.01,186.53 L203.51,186.54 L204.00,186.55 L204.50,186.56 L205.00,186.58 L205.50,186.59 L206.00,186.60" fill="none" stroke="#0000ff" stroke-width="1.1" stroke-linejoin="round" stroke-linecap="butt" clip-path="url(#cpc)"/>
<path d="M248.00,237.70 L412.00,237.70" fill="none" stroke="#555" stroke-width="1.0" stroke-linejoin="round" stroke-linecap="butt" clip-path="url(#cpd)"/>
<path d="M248.00,237.70 L248.53,237.70 L249.06,237.70 L249.58,237.69 L250.10,237.69 L250.62,237.68 L251.13,237.67 L251.63,237.66 L252.14,237.65 L252.63,237.63 L253.13,237.62 L253.62,237.60 L254.11,237.58 L254.60,237.55 L255.08,237.53 L255.56,237.50 L256.04,237.47 L256.52,237.44 L256.99,237.40 L257.48,237.31 L257.98,237.13 L258.46,236.89 L258.86,236.61 L259.17,236.32 L259.44,235.95 L259.68,235.52 L259.90,235.04 L260.10,234.54 L260.29,234.04 L260.48,233.56 L260.66,233.09 L260.82,232.62 L260.97,232.13 L261.11,231.65 L261.26,231.16 L261.42,230.69 L261.60,230.23 L261.81,229.79 L262.07,229.28 L262.39,228.82 L262.69,228.72 L263.01,229.07 L263.30,229.60 L263.51,230.06 L263.68,230.51 L263.82,230.99 L263.95,231.48 L264.07,231.97 L264.20,232.46 L264.33,232.95 L264.48,233.43 L264.64,233.92 L264.80,234.45 L264.96,234.99 L265.14,235.51 L265.34,235.97 L265.57,236.36 L265.84,236.63 L266.21,236.85 L266.69,237.05 L267.22,237.20 L267.75,237.29 L268.25,237.30 L268.74,237.26 L269.23,237.20 L269.73,237.12 L270.23,237.04 L270.73,236.95 L271.22,236.86 L271.71,236.76 L272.19,236.64 L272.68,236.51 L273.16,236.39 L273.65,236.27 L274.14,236.17 L274.63,236.07 L275.12,235.96 L275.62,235.87 L276.11,235.81 L276.60,235.81 L277.09,235.86 L277.59,235.95 L278.08,236.07 L278.57,236.20 L279.05,236.31 L279.54,236.44 L280.02,236.60 L280.50,236.76 L280.98,236.90 L281.46,237.02 L281.95,237.10 L282.44,237.13 L282.93,237.17 L283.43,237.20 L283.92,237.23 L284.42,237.25 L284.92,237.28 L285.42,237.30 L285.92,237.32 L286.43,237.34 L286.93,237.36 L287.43,237.37 L287.93,237.38 L288.43,237.39 L288.94,237.39 L289.44,237.40 L289.94,237.40 L290.44,237.40 L290.94,237.40 L291.44,237.40 L291.95,237.40 L292.45,237.39 L292.95,237.39 L293.46,237.39 L293.96,237.38 L294.47,237.38 L294.97,237.37 L295.47,237.37 L295.97,237.36 L296.47,237.35 L296.97,237.35 L297.46,237.34 L297.96,237.33 L298.45,237.31 L298.93,237.30 L299.42,237.26 L299.93,237.15 L300.42,236.99 L300.90,236.80 L301.34,236.58 L301.74,236.35 L302.13,236.05 L302.50,235.69 L302.84,235.29 L303.15,234.87 L303.42,234.44 L303.65,234.02 L303.86,233.59 L304.05,233.13 L304.23,232.66 L304.40,232.18 L304.56,231.69 L304.70,231.20 L304.83,230.71 L304.95,230.22 L305.06,229.74 L305.16,229.26 L305.26,228.77 L305.36,228.29 L305.45,227.80 L305.54,227.31 L305.62,226.82 L305.71,226.33 L305.79,225.84 L305.86,225.35 L305.94,224.85 L306.01,224.36 L306.08,223.86 L306.15,223.36 L306.22,222.87 L306.28,222.37 L306.35,221.87 L306.41,221.37 L306.47,220.88 L306.53,220.38 L306.59,219.88 L306.65,219.38 L306.71,218.88 L306.77,218.38 L306.83,217.88 L306.89,217.38 L306.96,216.89 L307.02,216.39 L307.08,215.89 L307.15,215.40 L307.21,214.90 L307.28,214.41 L307.35,213.91 L307.42,213.42 L307.50,212.92 L307.57,212.43 L307.64,211.93 L307.72,211.44 L307.79,210.94 L307.86,210.45 L307.94,209.95 L308.01,209.46 L308.08,208.96 L308.15,208.46 L308.21,207.97 L308.28,207.47 L308.34,206.98 L308.40,206.48 L308.45,205.98 L308.51,205.49 L308.55,204.99 L308.60,204.49 L308.64,204.00 L308.67,203.50 L308.70,203.00 L308.73,202.51 L308.75,202.01 L308.77,201.51 L308.80,201.01 L308.82,200.51 L308.84,200.02 L308.86,199.52 L308.88,199.02 L308.90,198.52 L308.92,198.02 L308.93,197.52 L308.95,197.02 L308.97,196.52 L308.98,196.03 L309.00,195.53 L309.01,195.03 L309.03,194.53 L309.04,194.03 L309.05,193.53 L309.07,193.03 L309.08,192.53 L309.09,192.03 L309.11,191.53 L309.12,191.03 L309.13,190.53 L309.14,190.03 L309.15,189.53 L309.16,189.03 L309.18,188.53 L309.19,188.03 L309.20,187.53 L309.21,187.03 L309.22,186.53 L309.23,186.03 L309.25,185.53 L309.26,185.03 L309.27,184.53 L309.28,184.03 L309.30,183.53 L309.31,183.03 L309.32,182.53 L309.34,182.03 L309.35,181.53 L309.37,181.03 L309.38,180.53 L309.40,180.03 L309.42,179.53 L309.43,179.03 L309.45,178.53 L309.46,178.03 L309.48,177.53 L309.49,177.03 L309.50,176.53 L309.52,176.03 L309.53,175.53 L309.54,175.03 L309.56,174.53 L309.57,174.03 L309.58,173.53 L309.60,173.03 L309.61,172.53 L309.63,172.03 L309.64,171.53 L309.65,171.03 L309.67,170.53 L309.68,170.03 L309.70,169.53 L309.71,169.03 L309.73,168.53 L309.74,168.03 L309.76,167.54 L309.78,167.04 L309.80,166.54 L309.81,166.04 L309.83,165.54 L309.85,165.04 L309.87,164.54 L309.89,164.04 L309.92,163.54 L309.94,163.04 L309.96,162.55 L309.99,162.05 L310.01,161.55 L310.04,161.05 L310.07,160.56 L310.10,160.06 L310.13,159.56 L310.17,159.06 L310.21,158.57 L310.25,158.07 L310.30,157.57 L310.36,157.07 L310.42,156.58 L310.48,156.08 L310.55,155.58 L310.61,155.08 L310.69,154.59 L310.76,154.09 L310.84,153.60 L310.92,153.11 L311.00,152.61 L311.08,152.12 L311.16,151.63 L311.25,151.14 L311.33,150.65 L311.43,150.15 L311.52,149.66 L311.63,149.17 L311.74,148.67 L311.85,148.18 L311.97,147.69 L312.09,147.20 L312.22,146.72 L312.36,146.24 L312.51,145.76 L312.66,145.29 L312.82,144.83 L312.99,144.37 L313.17,143.91 L313.38,143.44 L313.61,142.98 L313.85,142.53 L314.11,142.09 L314.38,141.66 L314.67,141.25 L314.96,140.87 L315.27,140.51 L315.61,140.15 L315.97,139.81 L316.36,139.47 L316.77,139.15 L317.19,138.85 L317.62,138.57 L318.05,138.32 L318.49,138.11 L318.93,137.91 L319.38,137.73 L319.85,137.55 L320.33,137.39 L320.81,137.24 L321.30,137.10 L321.79,136.97 L322.29,136.85 L322.78,136.75 L323.26,136.65 L323.75,136.55 L324.24,136.46 L324.73,136.37 L325.23,136.28 L325.72,136.20 L326.22,136.13 L326.72,136.06 L327.22,136.00 L327.71,135.96 L328.21,135.92 L328.71,135.90 L329.22,135.88 L329.74,135.86 L330.27,135.84 L330.79,135.83 L331.30,135.81 L331.79,135.81 L332.25,135.80 L332.67,135.84 L333.05,136.16 L333.40,136.60 L333.45,137.10 L333.50,137.59 L333.56,138.09 L333.61,138.58 L333.66,139.08 L333.71,139.57 L333.75,140.07 L333.78,140.56 L333.80,141.06 L333.82,141.56 L333.84,142.05 L333.85,142.55 L333.87,143.05 L333.89,143.55 L333.90,144.05 L333.92,144.56 L333.93,145.06 L333.95,145.56 L333.96,146.07 L333.98,146.57 L333.99,147.08 L334.00,147.58 L334.02,148.09 L334.03,148.60 L334.04,149.11 L334.06,149.62 L334.07,150.12 L334.08,150.64 L334.09,151.15 L334.10,151.66 L334.11,152.17 L334.12,152.68 L334.13,153.20 L334.14,153.71 L334.15,154.23 L334.16,154.74 L334.17,155.26 L334.18,155.77 L334.19,156.29 L334.20,156.81 L334.21,157.32 L334.22,157.84 L334.23,158.36 L334.23,158.88 L334.24,159.40 L334.25,159.92 L334.26,160.44 L334.26,160.96 L334.27,161.48 L334.28,162.00 L334.28,162.52 L334.29,163.04 L334.30,163.56 L334.30,164.09 L334.31,164.61 L334.31,165.13 L334.32,165.66 L334.32,166.18 L334.33,166.70 L334.33,167.23 L334.34,167.75 L334.34,168.27 L334.35,168.80 L334.35,169.32 L334.36,169.85 L334.36,170.37 L334.36,170.90 L334.37,171.42 L334.37,171.95 L334.38,172.47 L334.38,173.00 L334.38,173.52 L334.39,174.05 L334.39,174.57 L334.39,175.10 L334.39,175.62 L334.40,176.15 L334.40,176.67 L334.40,177.20 L334.41,177.72 L334.41,178.25 L334.41,178.77 L334.41,179.30 L334.42,179.82 L334.42,180.35 L334.42,180.87 L334.42,181.40 L334.43,181.92 L334.43,182.44 L334.43,182.97 L334.43,183.49 L334.43,184.01 L334.44,184.54 L334.44,185.06 L334.44,185.58 L334.44,186.10 L334.44,186.62 L334.45,187.15 L334.45,187.67 L334.45,188.19 L334.45,188.71 L334.45,189.23 L334.46,189.75 L334.46,190.27 L334.46,190.79 L334.46,191.30 L334.47,191.82 L334.47,192.34 L334.47,192.86 L334.47,193.37 L334.47,193.89 L334.48,194.41 L334.48,194.92 L334.48,195.44 L334.48,195.95 L334.49,196.46 L334.49,196.98 L334.49,197.49 L334.50,198.00 L334.50,198.51 L334.50,199.02 L334.50,199.53 L334.51,200.04 L334.51,200.55 L334.51,201.06 L334.52,201.56 L334.52,202.07 L334.53,202.58 L334.53,203.08 L334.53,203.59 L334.54,204.09 L334.54,204.59 L334.55,205.09 L334.55,205.59 L334.56,206.09 L334.56,206.59 L334.57,207.09 L334.57,207.59 L334.58,208.09 L334.58,208.58 L334.59,209.08 L334.59,209.57 L334.60,210.07 L334.61,210.56 L334.61,211.05 L334.62,211.54 L334.63,212.03 L334.63,212.52 L334.64,213.01 L334.65,213.49 L334.66,213.98 L334.66,214.46 L334.67,214.94 L334.68,215.43 L334.69,215.91 L334.70,216.39 L334.71,216.87 L334.71,217.34 L334.72,217.82 L334.73,218.30 L334.74,218.77 L334.75,219.24 L334.76,219.72 L334.77,220.19 L334.79,220.66 L334.80,221.12 L334.81,221.59 L334.82,222.06 L334.83,222.52 L334.84,222.98 L334.86,223.45 L334.87,223.91 L334.88,224.36 L334.90,224.82 L334.91,225.28 L334.92,225.73 L334.94,226.19 L334.95,226.64 L334.97,227.09 L334.98,227.54 L335.00,227.99 L335.02,228.43 L335.03,228.88 L335.05,229.32 L335.07,229.76 L335.08,230.21 L335.10,230.64 L335.12,231.08 L335.14,231.52 L335.16,231.95 L335.18,232.38 L335.20,232.82 L335.22,233.24 L335.24,233.67 L335.26,234.10 L335.28,234.52 L335.30,234.95 L335.32,235.37 L335.34,235.79 L335.37,236.21 L335.39,236.62 L335.51,237.03 L335.90,237.40 L336.29,237.03 L336.41,236.62 L336.44,236.21 L336.46,235.79 L336.49,235.37 L336.51,234.95 L336.54,234.52 L336.56,234.10 L336.58,233.67 L336.61,233.24 L336.63,232.82 L336.65,232.38 L336.67,231.95 L336.69,231.52 L336.71,231.08 L336.73,230.64 L336.75,230.20 L336.77,229.76 L336.79,229.32 L336.81,228.88 L336.83,228.43 L336.85,227.99 L336.87,227.54 L336.88,227.09 L336.90,226.64 L336.92,226.19 L336.93,225.73 L336.95,225.28 L336.96,224.82 L336.98,224.36 L336.99,223.91 L337.01,223.44 L337.02,222.98 L337.04,222.52 L337.05,222.06 L337.06,221.59 L337.08,221.12 L337.09,220.66 L337.10,220.19 L337.12,219.71 L337.13,219.24 L337.14,218.77 L337.15,218.30 L337.16,217.82 L337.17,217.34 L337.18,216.87 L337.19,216.39 L337.20,215.91 L337.21,215.43 L337.22,214.94 L337.23,214.46 L337.24,213.98 L337.25,213.49 L337.26,213.01 L337.27,212.52 L337.27,212.03 L337.28,211.54 L337.29,211.05 L337.30,210.56 L337.30,210.07 L337.31,209.57 L337.32,209.08 L337.32,208.58 L337.33,208.09 L337.34,207.59 L337.34,207.09 L337.35,206.59 L337.35,206.09 L337.36,205.59 L337.36,205.09 L337.37,204.59 L337.38,204.09 L337.38,203.59 L337.38,203.08 L337.39,202.58 L337.39,202.07 L337.40,201.56 L337.40,201.06 L337.41,200.55 L337.41,200.04 L337.41,199.53 L337.42,199.02 L337.42,198.51 L337.43,198.00 L337.43,197.49 L337.43,196.98 L337.44,196.46 L337.44,195.95 L337.44,195.44 L337.45,194.92 L337.45,194.41 L337.45,193.89 L337.45,193.37 L337.46,192.86 L337.46,192.34 L337.46,191.82 L337.47,191.30 L337.47,190.79 L337.47,190.27 L337.47,189.75 L337.48,189.23 L337.48,188.71 L337.48,188.19 L337.48,187.67 L337.49,187.15 L337.49,186.62 L337.49,186.10 L337.49,185.58 L337.50,185.06 L337.50,184.54 L337.50,184.01 L337.50,183.49 L337.51,182.97 L337.51,182.44 L337.51,181.92 L337.51,181.40 L337.52,180.87 L337.52,180.35 L337.52,179.82 L337.52,179.30 L337.53,178.77 L337.53,178.25 L337.53,177.72 L337.54,177.20 L337.54,176.67 L337.54,176.15 L337.55,175.62 L337.55,175.10 L337.55,174.57 L337.56,174.05 L337.56,173.52 L337.56,173.00 L337.57,172.47 L337.57,171.95 L337.58,171.42 L337.58,170.90 L337.59,170.37 L337.59,169.85 L337.59,169.32 L337.60,168.80 L337.60,168.27 L337.61,167.75 L337.62,167.23 L337.62,166.70 L337.63,166.18 L337.63,165.66 L337.64,165.13 L337.64,164.61 L337.65,164.09 L337.66,163.56 L337.66,163.04 L337.67,162.52 L337.68,162.00 L337.69,161.48 L337.69,160.96 L337.70,160.44 L337.71,159.92 L337.72,159.40 L337.73,158.88 L337.73,158.36 L337.74,157.84 L337.75,157.32 L337.76,156.81 L337.77,156.29 L337.78,155.77 L337.79,155.26 L337.80,154.74 L337.81,154.23 L337.82,153.71 L337.83,153.20 L337.85,152.68 L337.86,152.17 L337.87,151.66 L337.88,151.15 L337.90,150.64 L337.91,150.13 L337.92,149.62 L337.93,149.11 L337.95,148.60 L337.96,148.09 L337.98,147.58 L337.99,147.08 L338.01,146.57 L338.02,146.07 L338.04,145.56 L338.06,145.06 L338.07,144.56 L338.09,144.05 L338.11,143.55 L338.12,143.05 L338.14,142.55 L338.16,142.05 L338.18,141.56 L338.20,141.06 L338.22,140.56 L338.25,140.07 L338.29,139.57 L338.34,139.08 L338.39,138.58 L338.45,138.09 L338.50,137.59 L338.55,137.10 L338.60,136.60 L338.97,136.20 L339.37,135.88 L339.79,135.78 L340.23,135.75 L340.70,135.72 L341.18,135.70 L341.68,135.67 L342.18,135.66 L342.70,135.64 L343.22,135.63 L343.74,135.62 L344.26,135.61 L344.78,135.60 L345.30,135.60 L345.81,135.60 L346.31,135.60 L346.81,135.62 L347.31,135.64 L347.81,135.68 L348.31,135.72 L348.81,135.77 L349.30,135.82 L349.80,135.88 L350.29,135.94 L350.78,136.02 L351.28,136.12 L351.77,136.24 L352.26,136.38 L352.74,136.53 L353.21,136.69 L353.65,136.86 L354.10,137.08 L354.54,137.34 L354.96,137.63 L355.37,137.94 L355.75,138.27 L356.10,138.60 L356.43,138.96 L356.75,139.34 L357.06,139.75 L357.35,140.17 L357.62,140.60 L357.86,141.04 L358.09,141.48 L358.30,141.92 L358.50,142.37 L358.70,142.84 L358.88,143.31 L359.05,143.78 L359.22,144.26 L359.37,144.74 L359.52,145.22 L359.66,145.69 L359.79,146.17 L359.92,146.65 L360.05,147.14 L360.17,147.63 L360.29,148.11 L360.39,148.60 L360.49,149.09 L360.58,149.59 L360.67,150.08 L360.74,150.57 L360.81,151.06 L360.87,151.55 L360.94,152.05 L361.00,152.54 L361.06,153.03 L361.11,153.53 L361.17,154.03 L361.22,154.52 L361.27,155.02 L361.32,155.52 L361.37,156.01 L361.41,156.51 L361.46,157.01 L361.50,157.51 L361.54,158.01 L361.58,158.51 L361.63,159.01 L361.67,159.51 L361.70,160.00 L361.74,160.50 L361.78,161.00 L361.82,161.50 L361.86,162.00 L361.90,162.50 L361.94,163.00 L361.98,163.50 L362.02,163.99 L362.05,164.49 L362.09,164.99 L362.13,165.49 L362.17,165.99 L362.20,166.48 L362.24,166.98 L362.27,167.48 L362.31,167.98 L362.34,168.48 L362.38,168.97 L362.41,169.47 L362.44,169.97 L362.47,170.47 L362.51,170.97 L362.54,171.47 L362.57,171.96 L362.60,172.46 L362.63,172.96 L362.66,173.46 L362.70,173.96 L362.73,174.46 L362.76,174.96 L362.79,175.45 L362.82,175.95 L362.85,176.45 L362.88,176.95 L362.91,177.45 L362.95,177.95 L362.98,178.45 L363.01,178.94 L363.04,179.44 L363.07,179.94 L363.11,180.44 L363.14,180.94 L363.17,181.44 L363.21,181.93 L363.24,182.43 L363.28,182.93 L363.31,183.43 L363.35,183.93 L363.38,184.43 L363.41,184.92 L363.45,185.42 L363.48,185.92 L363.51,186.42 L363.55,186.92 L363.58,187.42 L363.61,187.91 L363.65,188.41 L363.68,188.91 L363.71,189.41 L363.75,189.91 L363.78,190.41 L363.81,190.90 L363.85,191.40 L363.88,191.90 L363.91,192.40 L363.95,192.90 L363.98,193.40 L364.01,193.90 L364.05,194.39 L364.08,194.89 L364.12,195.39 L364.15,195.89 L364.19,196.39 L364.22,196.88 L364.26,197.38 L364.30,197.88 L364.33,198.38 L364.37,198.88 L364.41,199.38 L364.44,199.87 L364.48,200.37 L364.52,200.87 L364.56,201.37 L364.60,201.86 L364.64,202.36 L364.68,202.86 L364.72,203.36 L364.76,203.86 L364.80,204.35 L364.84,204.85 L364.88,205.35 L364.93,205.85 L364.97,206.34 L365.01,206.84 L365.06,207.34 L365.10,207.83 L365.14,208.33 L365.19,208.83 L365.23,209.33 L365.27,209.83 L365.32,210.33 L365.36,210.83 L365.40,211.33 L365.45,211.82 L365.49,212.32 L365.54,212.82 L365.58,213.32 L365.63,213.82 L365.68,214.32 L365.73,214.82 L365.77,215.32 L365.82,215.82 L365.87,216.32 L365.92,216.81 L365.98,217.31 L366.03,217.81 L366.09,218.31 L366.14,218.80 L366.20,219.30 L366.26,219.80 L366.32,220.29 L366.38,220.79 L366.44,221.28 L366.51,221.78 L366.58,222.27 L366.64,222.76 L366.71,223.26 L366.79,223.75 L366.86,224.24 L366.94,224.73 L367.02,225.22 L367.10,225.71 L367.18,226.20 L367.27,226.69 L367.36,227.19 L367.46,227.70 L367.57,228.21 L367.69,228.72 L367.83,229.20 L367.98,229.67 L368.16,230.11 L368.37,230.52 L368.68,230.94 L369.08,231.29 L369.51,231.45 L370.04,231.52 L370.48,231.64 L370.83,231.94 L371.13,232.38 L371.41,232.85 L371.66,233.28 L371.89,233.74 L372.09,234.21 L372.29,234.69 L372.49,235.15 L372.72,235.59 L372.98,235.98 L373.31,236.37 L373.69,236.76 L374.11,237.07 L374.54,237.20 L374.98,237.24 L375.45,237.27 L375.93,237.30 L376.43,237.33 L376.94,237.35 L377.46,237.36 L377.98,237.38 L378.50,237.39 L379.02,237.39 L379.53,237.40 L380.04,237.40 L380.54,237.40 L381.03,237.40 L381.53,237.40 L382.03,237.40 L382.53,237.40 L383.03,237.40 L383.53,237.40 L384.03,237.40 L384.53,237.40 L385.03,237.40 L385.53,237.40 L386.03,237.40 L386.53,237.40 L387.03,237.40 L387.53,237.40 L388.02,237.40 L388.52,237.40 L389.02,237.40 L389.52,237.40 L390.02,237.40 L390.52,237.40 L391.02,237.40 L391.52,237.40 L392.02,237.40 L392.52,237.40 L393.02,237.40 L393.52,237.40 L394.02,237.40 L394.52,237.40 L395.02,237.40 L395.51,237.40 L396.01,237.40 L396.51,237.40 L397.01,237.40 L397.51,237.40 L398.01,237.40 L398.51,237.40 L399.01,237.40 L399.51,237.40 L400.01,237.40 L400.51,237.40 L401.01,237.40 L401.51,237.40 L402.01,237.40 L402.51,237.40 L403.01,237.40 L403.51,237.40 L404.01,237.40 L404.51,237.40 L405.01,237.40 L405.50,237.40 L406.00,237.40 L406.50,237.40 L407.00,237.40 L407.50,237.40 L408.00,237.40 L408.50,237.40 L409.00,237.40 L409.50,237.40 L410.00,237.40 L410.50,237.40 L411.00,237.40 L411.50,237.40 L412.00,237.40" fill="none" stroke="#008000" stroke-width="1.1" stroke-linejoin="round" stroke-linecap="butt" clip-path="url(#cpd)"/>
<path d="M248.00,237.70 L248.50,237.70 L249.00,237.70 L249.50,237.70 L250.00,237.70 L250.51,237.70 L251.01,237.70 L251.51,237.70 L252.01,237.70 L252.51,237.70 L253.01,237.70 L253.51,237.70 L254.01,237.70 L254.51,237.70 L255.01,237.70 L255.52,237.70 L256.02,237.70 L256.52,237.70 L257.02,237.70 L257.52,237.70 L258.02,237.70 L258.52,237.70 L259.02,237.70 L259.52,237.70 L260.02,237.70 L260.52,237.70 L261.02,237.70 L261.52,237.70 L262.02,237.70 L262.52,237.70 L263.02,237.70 L263.52,237.70 L264.02,237.70 L264.52,237.70 L265.02,237.70 L265.52,237.70 L266.02,237.70 L266.52,237.70 L267.02,237.70 L267.52,237.70 L268.02,237.70 L268.52,237.70 L269.02,237.70 L269.52,237.70 L270.02,237.70 L270.52,237.70 L271.02,237.70 L271.52,237.70 L272.02,237.70 L272.52,237.70 L273.02,237.70 L273.52,237.70 L274.02,237.70 L274.52,237.70 L275.02,237.70 L275.52,237.70 L276.02,237.70 L276.52,237.70 L277.01,237.70 L277.51,237.70 L278.01,237.70 L278.51,237.70 L279.01,237.70 L279.51,237.70 L280.01,237.70 L280.51,237.70 L281.01,237.70 L281.51,237.70 L282.01,237.70 L282.51,237.70 L283.01,237.70 L283.50,237.70 L284.00,237.70 L284.50,237.70 L285.00,237.70 L285.50,237.70 L286.00,237.70 L286.50,237.70 L287.00,237.70 L287.50,237.70 L288.00,237.70 L288.50,237.70 L288.99,237.70 L289.49,237.70 L289.99,237.70 L290.49,237.69 L290.99,237.68 L291.49,237.65 L291.99,237.62 L292.49,237.58 L292.99,237.53 L293.49,237.48 L293.99,237.42 L294.48,237.37 L294.98,237.30 L295.47,237.23 L295.97,237.13 L296.46,237.02 L296.94,236.88 L297.41,236.73 L297.87,236.56 L298.32,236.34 L298.77,236.09 L299.20,235.81 L299.61,235.51 L299.99,235.21 L300.36,234.88 L300.74,234.53 L301.10,234.15 L301.43,233.75 L301.72,233.34 L301.95,232.92 L302.12,232.49 L302.28,232.05 L302.42,231.59 L302.56,231.13 L302.68,230.65 L302.80,230.16 L302.91,229.67 L303.01,229.17 L303.10,228.66 L303.19,228.16 L303.28,227.65 L303.36,227.14 L303.44,226.63 L303.52,226.12 L303.60,225.62 L303.68,225.12 L303.76,224.63 L303.84,224.13 L303.91,223.64 L303.98,223.15 L304.04,222.65 L304.11,222.15 L304.17,221.66 L304.23,221.16 L304.29,220.66 L304.34,220.17 L304.40,219.67 L304.46,219.17 L304.52,218.68 L304.57,218.18 L304.63,217.68 L304.70,217.19 L304.76,216.69 L304.83,216.19 L304.90,215.70 L304.97,215.21 L305.04,214.71 L305.12,214.22 L305.20,213.73 L305.29,213.23 L305.37,212.74 L305.46,212.25 L305.55,211.75 L305.64,211.26 L305.73,210.77 L305.83,210.28 L305.92,209.79 L306.02,209.30 L306.12,208.81 L306.22,208.32 L306.32,207.83 L306.43,207.34 L306.53,206.85 L306.64,206.36 L306.74,205.87 L306.84,205.38 L306.95,204.88 L307.05,204.38 L307.16,203.89 L307.27,203.40 L307.39,202.91 L307.51,202.42 L307.64,201.93 L307.77,201.45 L307.92,200.98 L308.07,200.51 L308.23,200.05 L308.40,199.59 L308.60,199.12 L308.84,198.66 L309.11,198.23 L309.43,197.88 L309.85,197.56 L310.31,197.40 L310.73,197.61 L311.10,198.04 L311.33,198.44 L311.53,198.88 L311.71,199.36 L311.86,199.86 L311.98,200.37 L312.07,200.87 L312.11,201.37 L312.15,201.85 L312.18,202.34 L312.22,202.83 L312.24,203.33 L312.27,203.82 L312.30,204.31 L312.32,204.81 L312.34,205.31 L312.36,205.80 L312.38,206.30 L312.40,206.80 L312.42,207.30 L312.43,207.80 L312.45,208.30 L312.46,208.81 L312.47,209.31 L312.48,209.81 L312.49,210.31 L312.51,210.82 L312.52,211.32 L312.53,211.82 L312.54,212.33 L312.55,212.83 L312.56,213.34 L312.57,213.84 L312.58,214.34 L312.60,214.85 L312.61,215.35 L312.63,215.85 L312.64,216.35 L312.66,216.86 L312.68,217.36 L312.69,217.86 L312.71,218.36 L312.73,218.86 L312.75,219.36 L312.77,219.86 L312.78,220.36 L312.80,220.87 L312.81,221.37 L312.83,221.88 L312.84,222.38 L312.85,222.89 L312.87,223.39 L312.88,223.90 L312.90,224.40 L312.91,224.91 L312.93,225.41 L312.95,225.91 L312.97,226.42 L312.99,226.92 L313.01,227.42 L313.03,227.92 L313.05,228.42 L313.08,228.92 L313.11,229.41 L313.14,229.91 L313.17,230.40 L313.21,230.89 L313.25,231.38 L313.29,231.87 L313.34,232.36 L313.38,232.84 L313.46,233.37 L313.62,233.99 L313.82,234.47 L314.00,234.58 L314.19,234.23 L314.38,233.64 L314.49,233.05 L314.55,232.56 L314.60,232.08 L314.65,231.59 L314.69,231.10 L314.74,230.61 L314.78,230.12 L314.81,229.62 L314.85,229.13 L314.88,228.63 L314.91,228.13 L314.94,227.63 L314.96,227.13 L314.99,226.63 L315.01,226.13 L315.03,225.62 L315.05,225.12 L315.07,224.62 L315.09,224.11 L315.10,223.61 L315.12,223.10 L315.14,222.60 L315.15,222.09 L315.17,221.59 L315.19,221.08 L315.20,220.58 L315.22,220.08 L315.24,219.57 L315.26,219.07 L315.28,218.57 L315.30,218.07 L315.32,217.57 L315.34,217.07 L315.36,216.57 L315.37,216.07 L315.39,215.57 L315.40,215.06 L315.42,214.56 L315.43,214.06 L315.44,213.55 L315.45,213.05 L315.46,212.55 L315.47,212.04 L315.49,211.54 L315.50,211.03 L315.51,210.53 L315.52,210.03 L315.53,209.52 L315.54,209.02 L315.56,208.52 L315.57,208.02 L315.58,207.52 L315.60,207.02 L315.62,206.52 L315.63,206.02 L315.65,205.52 L315.67,205.02 L315.70,204.53 L315.72,204.03 L315.75,203.54 L315.77,203.04 L315.80,202.55 L315.84,202.06 L315.87,201.58 L315.91,201.09 L315.97,200.58 L316.06,200.04 L316.19,199.51 L316.34,198.99 L316.51,198.50 L316.71,198.06 L316.93,197.70 L317.23,197.38 L317.69,197.08 L318.19,196.91 L318.64,196.97 L319.11,197.21 L319.54,197.55 L319.87,197.88 L320.14,198.24 L320.39,198.65 L320.61,199.10 L320.81,199.58 L321.00,200.08 L321.17,200.58 L321.35,201.07 L321.52,201.55 L321.69,202.01 L321.86,202.48 L322.02,202.96 L322.18,203.43 L322.34,203.91 L322.49,204.39 L322.64,204.87 L322.78,205.35 L322.91,205.84 L323.03,206.32 L323.15,206.81 L323.26,207.29 L323.36,207.78 L323.45,208.26 L323.54,208.75 L323.62,209.24 L323.70,209.73 L323.78,210.23 L323.85,210.72 L323.92,211.21 L323.99,211.71 L324.06,212.20 L324.12,212.70 L324.18,213.20 L324.25,213.70 L324.31,214.19 L324.37,214.69 L324.43,215.19 L324.48,215.69 L324.54,216.19 L324.60,216.68 L324.67,217.18 L324.73,217.68 L324.79,218.18 L324.86,218.67 L324.93,219.17 L325.00,219.66 L325.07,220.16 L325.14,220.65 L325.22,221.15 L325.30,221.64 L325.38,222.14 L325.46,222.63 L325.54,223.13 L325.62,223.62 L325.70,224.12 L325.79,224.61 L325.87,225.11 L325.96,225.60 L326.05,226.09 L326.14,226.59 L326.24,227.08 L326.34,227.56 L326.45,228.05 L326.56,228.54 L326.68,229.02 L326.80,229.50 L326.93,229.98 L327.07,230.46 L327.23,230.94 L327.39,231.42 L327.57,231.90 L327.76,232.36 L327.96,232.82 L328.18,233.26 L328.41,233.70 L328.66,234.15 L328.94,234.61 L329.24,235.06 L329.56,235.47 L329.90,235.84 L330.25,236.14 L330.63,236.37 L331.05,236.56 L331.52,236.74 L332.01,236.89 L332.52,237.02 L333.04,237.13 L333.53,237.20 L334.02,237.27 L334.51,237.33 L335.01,237.39 L335.51,237.44 L336.00,237.49 L336.50,237.54 L337.01,237.58 L337.51,237.61 L338.01,237.64 L338.51,237.67 L339.01,237.69 L339.51,237.70 L340.01,237.70 L340.51,237.70 L341.01,237.70 L341.51,237.70 L342.01,237.70 L342.51,237.70 L343.01,237.70 L343.51,237.70 L344.01,237.70 L344.50,237.70 L345.00,237.70 L345.50,237.70 L346.00,237.70 L346.50,237.70 L347.00,237.70 L347.50,237.70 L348.00,237.70 L348.50,237.70 L349.00,237.70 L349.50,237.70 L349.99,237.70 L350.49,237.70 L350.99,237.70 L351.49,237.70 L351.99,237.70 L352.49,237.70 L352.99,237.70 L353.49,237.70 L353.99,237.70 L354.49,237.70 L354.99,237.70 L355.49,237.70 L355.99,237.70 L356.48,237.70 L356.98,237.70 L357.48,237.70 L357.98,237.70 L358.48,237.70 L358.98,237.70 L359.48,237.70 L359.98,237.70 L360.48,237.70 L360.98,237.70 L361.48,237.70 L361.98,237.70 L362.48,237.70 L362.98,237.70 L363.48,237.70 L363.97,237.70 L364.47,237.70 L364.97,237.70 L365.47,237.70 L365.97,237.70 L366.47,237.70 L366.97,237.70 L367.47,237.70 L367.97,237.70 L368.47,237.70 L368.97,237.70 L369.47,237.70 L369.97,237.70 L370.47,237.70 L370.97,237.70 L371.47,237.70 L371.97,237.70 L372.47,237.70 L372.97,237.70 L373.47,237.70 L373.97,237.70 L374.47,237.70 L374.97,237.70 L375.47,237.70 L375.97,237.70 L376.47,237.70 L376.97,237.70 L377.46,237.70 L377.96,237.70 L378.46,237.70 L378.96,237.70 L379.46,237.70 L379.96,237.70 L380.46,237.70 L380.96,237.70 L381.46,237.70 L381.96,237.70 L382.46,237.70 L382.96,237.70 L383.46,237.70 L383.96,237.70 L384.46,237.70 L384.96,237.70 L385.46,237.70 L385.96,237.70 L386.46,237.70 L386.96,237.70 L387.47,237.70 L387.97,237.70 L388.47,237.70 L388.97,237.70 L389.47,237.70 L389.97,237.70 L390.47,237.70 L390.97,237.70 L391.47,237.70 L391.97,237.70 L392.47,237.70 L392.97,237.70 L393.47,237.70 L393.97,237.70 L394.47,237.70 L394.97,237.70 L395.47,237.70 L395.97,237.70 L396.47,237.70 L396.97,237.70 L397.47,237.70 L397.97,237.70 L398.47,237.70 L398.97,237.70 L399.48,237.70 L399.98,237.70 L400.48,237.70 L400.98,237.70 L401.48,237.70 L401.98,237.70 L402.48,237.70 L402.98,237.70 L403.48,237.70 L403.98,237.70 L404.48,237.70 L404.98,237.70 L405.48,237.70 L405.99,237.70 L406.49,237.70 L406.99,237.70 L407.49,237.70 L407.99,237.70 L408.49,237.70 L408.99,237.70 L409.49,237.70 L409.99,237.70 L410.50,237.70 L411.00,237.70 L411.50,237.70 L412.00,237.70 L412.50,237.70" fill="none" stroke="#ff0000" stroke-width="1.1" stroke-linejoin="round" stroke-linecap="butt" clip-path="url(#cpd)"/>
<path d="M248.00,237.30 L248.50,237.30 L249.01,237.30 L249.51,237.30 L250.01,237.30 L250.52,237.30 L251.02,237.30 L251.52,237.30 L252.02,237.30 L252.52,237.30 L253.02,237.30 L253.52,237.30 L254.01,237.30 L254.51,237.30 L255.01,237.30 L255.51,237.30 L256.00,237.30 L256.50,237.30 L256.99,237.30 L257.49,237.30 L257.98,237.30 L258.49,237.28 L259.03,237.23 L259.56,237.15 L260.07,237.04 L260.52,236.91 L260.89,236.75 L261.20,236.44 L261.46,236.00 L261.72,235.50 L261.98,235.03 L262.26,234.56 L262.54,234.02 L262.82,233.48 L263.10,233.01 L263.37,232.70 L263.64,232.60 L263.90,232.79 L264.14,233.18 L264.39,233.71 L264.64,234.28 L264.89,234.81 L265.15,235.27 L265.41,235.78 L265.68,236.28 L265.96,236.68 L266.29,236.90 L266.68,236.97 L267.13,237.04 L267.62,237.09 L268.15,237.13 L268.69,237.17 L269.24,237.19 L269.76,237.20 L270.27,237.20 L270.76,237.17 L271.26,237.12 L271.76,237.06 L272.25,236.99 L272.75,236.91 L273.24,236.83 L273.74,236.75 L274.24,236.69 L274.73,236.64 L275.23,236.61 L275.72,236.60 L276.22,236.63 L276.71,236.69 L277.21,236.77 L277.70,236.87 L278.19,236.97 L278.69,237.06 L279.18,237.13 L279.68,237.18 L280.17,237.20 L280.67,237.21 L281.17,237.22 L281.67,237.23 L282.17,237.24 L282.67,237.25 L283.17,237.26 L283.66,237.27 L284.16,237.27 L284.66,237.28 L285.16,237.28 L285.67,237.29 L286.16,237.29 L286.66,237.29 L287.16,237.30 L287.66,237.30 L288.16,237.30 L288.66,237.30 L289.16,237.30 L289.66,237.28 L290.17,237.25 L290.67,237.19 L291.17,237.13 L291.65,237.06 L292.13,236.97 L292.62,236.84 L293.10,236.65 L293.57,236.42 L294.01,236.16 L294.40,235.88 L294.74,235.57 L295.04,235.20 L295.32,234.77 L295.57,234.31 L295.82,233.85 L296.05,233.40 L296.28,232.96 L296.50,232.51 L296.72,232.06 L296.92,231.60 L297.12,231.13 L297.29,230.66 L297.44,230.19 L297.58,229.72 L297.71,229.25 L297.83,228.77 L297.95,228.29 L298.06,227.81 L298.18,227.32 L298.28,226.83 L298.39,226.34 L298.49,225.85 L298.58,225.36 L298.68,224.87 L298.76,224.37 L298.85,223.88 L298.93,223.38 L299.01,222.88 L299.09,222.39 L299.16,221.89 L299.23,221.39 L299.30,220.90 L299.37,220.40 L299.43,219.90 L299.49,219.41 L299.54,218.91 L299.60,218.42 L299.65,217.93 L299.70,217.43 L299.75,216.93 L299.80,216.44 L299.85,215.94 L299.89,215.44 L299.94,214.95 L299.98,214.45 L300.02,213.95 L300.06,213.45 L300.10,212.95 L300.14,212.46 L300.17,211.96 L300.21,211.46 L300.25,210.96 L300.28,210.46 L300.32,209.96 L300.36,209.47 L300.39,208.97 L300.43,208.47 L300.46,207.97 L300.50,207.47 L300.54,206.98 L300.58,206.48 L300.61,205.98 L300.65,205.48 L300.69,204.99 L300.72,204.49 L300.76,203.99 L300.80,203.49 L300.83,202.99 L300.87,202.50 L300.90,202.00 L300.94,201.50 L300.97,201.00 L301.01,200.51 L301.04,200.01 L301.08,199.51 L301.11,199.01 L301.15,198.51 L301.18,198.02 L301.21,197.52 L301.25,197.02 L301.28,196.52 L301.31,196.02 L301.35,195.53 L301.38,195.03 L301.41,194.53 L301.45,194.03 L301.48,193.53 L301.51,193.04 L301.54,192.54 L301.58,192.04 L301.61,191.54 L301.64,191.04 L301.67,190.55 L301.70,190.05 L301.73,189.55 L301.76,189.05 L301.80,188.55 L301.83,188.05 L301.86,187.56 L301.89,187.06 L301.92,186.56 L301.95,186.06 L301.98,185.56 L302.01,185.06 L302.04,184.57 L302.07,184.07 L302.09,183.57 L302.12,183.07 L302.15,182.57 L302.18,182.08 L302.21,181.58 L302.24,181.08 L302.27,180.58 L302.30,180.08 L302.32,179.58 L302.35,179.09 L302.38,178.59 L302.40,178.09 L302.43,177.59 L302.45,177.09 L302.47,176.59 L302.50,176.09 L302.52,175.59 L302.54,175.10 L302.56,174.60 L302.58,174.10 L302.60,173.60 L302.62,173.10 L302.64,172.60 L302.66,172.10 L302.68,171.60 L302.70,171.10 L302.72,170.60 L302.75,170.10 L302.77,169.61 L302.79,169.11 L302.81,168.61 L302.83,168.11 L302.85,167.61 L302.88,167.11 L302.90,166.61 L302.92,166.11 L302.95,165.62 L302.98,165.12 L303.00,164.62 L303.03,164.12 L303.06,163.62 L303.09,163.13 L303.12,162.63 L303.15,162.13 L303.18,161.63 L303.22,161.14 L303.25,160.64 L303.29,160.14 L303.33,159.65 L303.37,159.15 L303.42,158.65 L303.46,158.16 L303.52,157.66 L303.57,157.16 L303.63,156.66 L303.69,156.17 L303.75,155.67 L303.82,155.18 L303.89,154.68 L303.96,154.19 L304.03,153.69 L304.11,153.20 L304.18,152.71 L304.26,152.21 L304.34,151.72 L304.43,151.23 L304.52,150.74 L304.61,150.25 L304.70,149.75 L304.81,149.26 L304.91,148.76 L305.02,148.27 L305.14,147.78 L305.26,147.29 L305.39,146.81 L305.53,146.33 L305.67,145.85 L305.83,145.38 L305.98,144.92 L306.15,144.47 L306.34,144.01 L306.55,143.54 L306.78,143.08 L307.02,142.63 L307.29,142.19 L307.56,141.76 L307.86,141.36 L308.16,140.97 L308.47,140.62 L308.81,140.28 L309.19,139.95 L309.58,139.62 L310.00,139.32 L310.44,139.03 L310.88,138.78 L311.33,138.56 L311.77,138.37 L312.23,138.21 L312.69,138.06 L313.17,137.92 L313.66,137.80 L314.16,137.68 L314.65,137.57 L315.15,137.47 L315.65,137.39 L316.14,137.31 L316.63,137.24 L317.13,137.16 L317.62,137.09 L318.11,137.02 L318.61,136.95 L319.10,136.88 L319.60,136.82 L320.10,136.76 L320.60,136.70 L321.10,136.65 L321.59,136.61 L322.09,136.57 L322.59,136.54 L323.09,136.52 L323.59,136.51 L324.09,136.50 L324.61,136.50 L325.14,136.50 L325.66,136.50 L326.13,136.50 L326.51,136.57 L326.83,136.96 L327.10,137.50 L327.15,138.00 L327.20,138.49 L327.25,138.99 L327.31,139.48 L327.36,139.98 L327.40,140.48 L327.44,140.97 L327.48,141.47 L327.50,141.97 L327.52,142.46 L327.53,142.96 L327.55,143.46 L327.56,143.96 L327.58,144.46 L327.59,144.96 L327.61,145.47 L327.62,145.97 L327.64,146.47 L327.65,146.98 L327.67,147.48 L327.68,147.99 L327.69,148.49 L327.71,149.00 L327.72,149.51 L327.73,150.02 L327.74,150.52 L327.75,151.03 L327.76,151.54 L327.78,152.05 L327.79,152.57 L327.80,153.08 L327.81,153.59 L327.82,154.10 L327.83,154.61 L327.84,155.13 L327.85,155.64 L327.86,156.16 L327.86,156.67 L327.87,157.19 L327.88,157.70 L327.89,158.22 L327.90,158.74 L327.90,159.25 L327.91,159.77 L327.92,160.29 L327.93,160.81 L327.93,161.33 L327.94,161.85 L327.95,162.37 L327.95,162.88 L327.96,163.40 L327.96,163.93 L327.97,164.45 L327.98,164.97 L327.98,165.49 L327.99,166.01 L327.99,166.53 L328.00,167.05 L328.00,167.57 L328.01,168.10 L328.01,168.62 L328.02,169.14 L328.02,169.66 L328.02,170.19 L328.03,170.71 L328.03,171.23 L328.04,171.75 L328.04,172.28 L328.04,172.80 L328.05,173.32 L328.05,173.85 L328.05,174.37 L328.06,174.89 L328.06,175.42 L328.06,175.94 L328.06,176.46 L328.07,176.99 L328.07,177.51 L328.07,178.03 L328.07,178.56 L328.08,179.08 L328.08,179.60 L328.08,180.12 L328.08,180.65 L328.09,181.17 L328.09,181.69 L328.09,182.21 L328.09,182.73 L328.09,183.26 L328.10,183.78 L328.10,184.30 L328.10,184.82 L328.10,185.34 L328.10,185.86 L328.11,186.38 L328.11,186.90 L328.11,187.42 L328.11,187.94 L328.11,188.46 L328.12,188.98 L328.12,189.50 L328.12,190.02 L328.12,190.54 L328.12,191.05 L328.13,191.57 L328.13,192.09 L328.13,192.60 L328.13,193.12 L328.13,193.63 L328.14,194.15 L328.14,194.66 L328.14,195.18 L328.14,195.69 L328.15,196.20 L328.15,196.72 L328.15,197.23 L328.15,197.74 L328.16,198.25 L328.16,198.76 L328.16,199.27 L328.17,199.78 L328.17,200.29 L328.17,200.80 L328.18,201.30 L328.18,201.81 L328.18,202.32 L328.19,202.82 L328.19,203.33 L328.19,203.83 L328.20,204.33 L328.20,204.84 L328.21,205.34 L328.21,205.84 L328.22,206.34 L328.22,206.84 L328.23,207.34 L328.23,207.83 L328.24,208.33 L328.24,208.83 L328.25,209.32 L328.25,209.82 L328.26,210.31 L328.26,210.80 L328.27,211.30 L328.28,211.79 L328.28,212.28 L328.29,212.77 L328.30,213.26 L328.30,213.74 L328.31,214.23 L328.32,214.71 L328.33,215.20 L328.34,215.68 L328.34,216.16 L328.35,216.65 L328.36,217.13 L328.37,217.61 L328.38,218.08 L328.39,218.56 L328.40,219.04 L328.41,219.51 L328.42,219.99 L328.43,220.46 L328.44,220.93 L328.45,221.40 L328.46,221.87 L328.47,222.34 L328.48,222.81 L328.50,223.27 L328.51,223.74 L328.52,224.20 L328.53,224.66 L328.55,225.12 L328.56,225.58 L328.57,226.04 L328.59,226.50 L328.60,226.95 L328.62,227.41 L328.63,227.86 L328.65,228.31 L328.66,228.76 L328.68,229.21 L328.70,229.66 L328.71,230.10 L328.73,230.55 L328.75,230.99 L328.77,231.43 L328.78,231.88 L328.80,232.31 L328.82,232.75 L328.84,233.19 L328.86,233.62 L328.88,234.06 L328.90,234.49 L328.92,234.92 L328.94,235.35 L328.96,235.77 L328.98,236.20 L329.03,236.62 L329.32,237.01 L329.70,237.40 L330.08,237.01 L330.37,236.62 L330.41,236.20 L330.44,235.77 L330.46,235.35 L330.47,234.92 L330.49,234.49 L330.51,234.06 L330.53,233.62 L330.55,233.19 L330.57,232.75 L330.59,232.31 L330.60,231.88 L330.62,231.43 L330.64,230.99 L330.65,230.55 L330.67,230.10 L330.68,229.66 L330.70,229.21 L330.71,228.76 L330.73,228.31 L330.74,227.86 L330.76,227.41 L330.77,226.95 L330.78,226.50 L330.80,226.04 L330.81,225.58 L330.82,225.12 L330.84,224.66 L330.85,224.20 L330.86,223.74 L330.87,223.27 L330.88,222.81 L330.89,222.34 L330.90,221.87 L330.91,221.40 L330.92,220.93 L330.93,220.46 L330.94,219.99 L330.95,219.51 L330.96,219.04 L330.97,218.56 L330.98,218.08 L330.99,217.61 L331.00,217.13 L331.00,216.65 L331.01,216.16 L331.02,215.68 L331.03,215.20 L331.03,214.71 L331.04,214.23 L331.05,213.74 L331.06,213.26 L331.06,212.77 L331.07,212.28 L331.07,211.79 L331.08,211.30 L331.09,210.80 L331.09,210.31 L331.10,209.82 L331.10,209.32 L331.11,208.83 L331.11,208.33 L331.12,207.83 L331.12,207.34 L331.13,206.84 L331.13,206.34 L331.13,205.84 L331.14,205.34 L331.14,204.84 L331.15,204.33 L331.15,203.83 L331.15,203.33 L331.16,202.82 L331.16,202.32 L331.16,201.81 L331.17,201.30 L331.17,200.80 L331.17,200.29 L331.18,199.78 L331.18,199.27 L331.18,198.76 L331.18,198.25 L331.19,197.74 L331.19,197.23 L331.19,196.72 L331.19,196.20 L331.19,195.69 L331.20,195.18 L331.20,194.66 L331.20,194.15 L331.20,193.63 L331.21,193.12 L331.21,192.60 L331.21,192.09 L331.21,191.57 L331.21,191.05 L331.21,190.53 L331.22,190.02 L331.22,189.50 L331.22,188.98 L331.22,188.46 L331.22,187.94 L331.22,187.42 L331.23,186.90 L331.23,186.38 L331.23,185.86 L331.23,185.34 L331.23,184.82 L331.24,184.30 L331.24,183.78 L331.24,183.26 L331.24,182.73 L331.24,182.21 L331.24,181.69 L331.25,181.17 L331.25,180.65 L331.25,180.12 L331.25,179.60 L331.26,179.08 L331.26,178.55 L331.26,178.03 L331.26,177.51 L331.26,176.99 L331.27,176.46 L331.27,175.94 L331.27,175.42 L331.28,174.89 L331.28,174.37 L331.28,173.85 L331.28,173.32 L331.29,172.80 L331.29,172.28 L331.29,171.75 L331.30,171.23 L331.30,170.71 L331.30,170.19 L331.31,169.66 L331.31,169.14 L331.32,168.62 L331.32,168.10 L331.33,167.57 L331.33,167.05 L331.33,166.53 L331.34,166.01 L331.34,165.49 L331.35,164.97 L331.35,164.45 L331.36,163.93 L331.37,163.40 L331.37,162.88 L331.38,162.37 L331.38,161.85 L331.39,161.33 L331.40,160.81 L331.40,160.29 L331.41,159.77 L331.42,159.25 L331.42,158.74 L331.43,158.22 L331.44,157.70 L331.45,157.19 L331.46,156.67 L331.46,156.16 L331.47,155.64 L331.48,155.13 L331.49,154.61 L331.50,154.10 L331.51,153.59 L331.52,153.08 L331.53,152.56 L331.54,152.05 L331.55,151.54 L331.56,151.03 L331.57,150.52 L331.58,150.02 L331.59,149.51 L331.61,149.00 L331.62,148.49 L331.63,147.99 L331.64,147.48 L331.66,146.98 L331.67,146.47 L331.68,145.97 L331.70,145.47 L331.71,144.96 L331.72,144.46 L331.74,143.96 L331.75,143.46 L331.77,142.96 L331.79,142.46 L331.80,141.97 L331.82,141.47 L331.86,140.97 L331.90,140.48 L331.94,139.98 L331.99,139.48 L332.05,138.99 L332.10,138.49 L332.15,138.00 L332.20,137.50 L332.48,136.99 L332.80,136.60 L333.17,136.47 L333.61,136.41 L334.10,136.37 L334.63,136.34 L335.17,136.31 L335.70,136.30 L336.21,136.30 L336.71,136.30 L337.21,136.31 L337.71,136.32 L338.21,136.33 L338.71,136.35 L339.21,136.37 L339.70,136.39 L340.20,136.41 L340.69,136.47 L341.19,136.55 L341.68,136.66 L342.17,136.79 L342.66,136.93 L343.13,137.08 L343.60,137.23 L344.06,137.41 L344.53,137.61 L344.99,137.83 L345.44,138.08 L345.87,138.34 L346.29,138.62 L346.68,138.91 L347.05,139.21 L347.40,139.54 L347.74,139.90 L348.07,140.29 L348.39,140.69 L348.69,141.10 L348.99,141.52 L349.27,141.94 L349.54,142.36 L349.80,142.78 L350.07,143.21 L350.32,143.65 L350.57,144.09 L350.79,144.54 L351.00,145.00 L351.18,145.46 L351.34,145.92 L351.48,146.39 L351.61,146.86 L351.74,147.33 L351.87,147.81 L351.99,148.29 L352.10,148.77 L352.21,149.26 L352.31,149.75 L352.42,150.24 L352.51,150.73 L352.61,151.23 L352.70,151.72 L352.78,152.22 L352.87,152.72 L352.95,153.22 L353.03,153.72 L353.10,154.22 L353.18,154.72 L353.25,155.21 L353.32,155.71 L353.39,156.21 L353.46,156.70 L353.53,157.20 L353.59,157.69 L353.66,158.18 L353.72,158.68 L353.78,159.17 L353.85,159.67 L353.91,160.16 L353.96,160.66 L354.02,161.15 L354.08,161.65 L354.14,162.15 L354.19,162.64 L354.24,163.14 L354.30,163.63 L354.35,164.13 L354.40,164.63 L354.45,165.13 L354.50,165.62 L354.55,166.12 L354.60,166.62 L354.64,167.12 L354.69,167.61 L354.74,168.11 L354.78,168.61 L354.83,169.11 L354.87,169.61 L354.91,170.10 L354.95,170.60 L354.99,171.10 L355.04,171.60 L355.08,172.10 L355.12,172.59 L355.15,173.09 L355.19,173.59 L355.23,174.09 L355.27,174.59 L355.31,175.08 L355.34,175.58 L355.38,176.08 L355.41,176.58 L355.45,177.08 L355.48,177.57 L355.51,178.07 L355.54,178.57 L355.57,179.07 L355.60,179.57 L355.63,180.07 L355.66,180.56 L355.69,181.06 L355.72,181.56 L355.74,182.06 L355.77,182.56 L355.80,183.06 L355.83,183.56 L355.85,184.05 L355.88,184.55 L355.91,185.05 L355.93,185.55 L355.96,186.05 L355.99,186.55 L356.02,187.05 L356.05,187.54 L356.08,188.04 L356.11,188.54 L356.14,189.04 L356.17,189.54 L356.20,190.04 L356.23,190.53 L356.27,191.03 L356.30,191.53 L356.33,192.03 L356.36,192.53 L356.39,193.03 L356.42,193.53 L356.45,194.02 L356.48,194.52 L356.52,195.02 L356.55,195.52 L356.58,196.02 L356.61,196.52 L356.64,197.02 L356.67,197.52 L356.71,198.01 L356.74,198.51 L356.77,199.01 L356.81,199.51 L356.84,200.01 L356.88,200.51 L356.91,201.00 L356.95,201.50 L356.99,202.00 L357.03,202.50 L357.07,202.99 L357.11,203.49 L357.15,203.99 L357.19,204.49 L357.24,204.98 L357.28,205.48 L357.33,205.98 L357.38,206.47 L357.43,206.97 L357.48,207.46 L357.53,207.96 L357.59,208.46 L357.65,208.95 L357.71,209.45 L357.77,209.95 L357.84,210.44 L357.91,210.94 L357.98,211.43 L358.06,211.93 L358.14,212.42 L358.22,212.91 L358.30,213.41 L358.39,213.90 L358.48,214.39 L358.57,214.87 L358.68,215.36 L358.79,215.85 L358.91,216.34 L359.04,216.82 L359.17,217.30 L359.31,217.78 L359.46,218.26 L359.61,218.73 L359.77,219.20 L359.95,219.66 L360.14,220.13 L360.34,220.58 L360.55,221.04 L360.77,221.49 L360.98,221.95 L361.20,222.40 L361.42,222.85 L361.64,223.29 L361.86,223.74 L362.09,224.19 L362.32,224.64 L362.55,225.08 L362.79,225.52 L363.03,225.96 L363.28,226.39 L363.53,226.82 L363.80,227.24 L364.07,227.65 L364.35,228.06 L364.64,228.46 L364.94,228.86 L365.25,229.25 L365.57,229.64 L365.89,230.02 L366.21,230.40 L366.54,230.79 L366.87,231.16 L367.20,231.54 L367.53,231.92 L367.86,232.30 L368.19,232.67 L368.52,233.05 L368.84,233.44 L369.16,233.82 L369.48,234.21 L369.81,234.59 L370.15,234.96 L370.49,235.32 L370.85,235.66 L371.22,236.00 L371.60,236.36 L372.00,236.70 L372.42,236.94 L372.86,237.06 L373.34,237.15 L373.84,237.22 L374.36,237.27 L374.87,237.30 L375.36,237.30 L375.86,237.30 L376.36,237.30 L376.86,237.30 L377.36,237.30 L377.86,237.30 L378.37,237.30 L378.87,237.30 L379.37,237.30 L379.87,237.30 L380.37,237.30 L380.87,237.30 L381.37,237.30 L381.87,237.30 L382.36,237.30 L382.86,237.30 L383.35,237.29 L383.84,237.22 L384.33,237.12 L384.82,237.00 L385.31,236.87 L385.80,236.75 L386.28,236.63 L386.77,236.49 L387.26,236.34 L387.75,236.20 L388.23,236.08 L388.72,236.01 L389.20,236.01 L389.67,236.11 L390.15,236.28 L390.62,236.48 L391.10,236.67 L391.58,236.82 L392.06,236.95 L392.55,237.08 L393.04,237.19 L393.53,237.27 L394.02,237.30 L394.52,237.30 L395.01,237.30 L395.51,237.30 L396.00,237.30 L396.49,237.30 L396.99,237.30 L397.48,237.30 L397.98,237.30 L398.47,237.30 L398.97,237.30 L399.46,237.30 L399.96,237.30 L400.46,237.30 L400.95,237.30 L401.45,237.30 L401.95,237.30 L402.45,237.30 L402.95,237.30 L403.45,237.30 L403.94,237.30 L404.44,237.30 L404.94,237.30 L405.45,237.30 L405.95,237.30 L406.45,237.30 L406.95,237.30 L407.45,237.30 L407.96,237.30 L408.46,237.30 L408.96,237.30 L409.47,237.30 L409.97,237.30 L410.48,237.30 L410.99,237.30 L411.49,237.30 L412.00,237.30" fill="none" stroke="#0000ff" stroke-width="1.1" stroke-linejoin="round" stroke-linecap="butt" clip-path="url(#cpd)"/>
<line x1="248.0" y1="238.0" x2="412.5" y2="238.0" stroke="#000" stroke-width="0.95" stroke-opacity="0.5"/>
<text x="52.6" y="56.3" font-family="Liberation Sans, sans-serif" font-size="9.0">(a)</text>
<text x="258.2" y="53.2" font-family="Liberation Sans, sans-serif" font-size="9.0">(b)</text>
<text x="52.2" y="145.1" font-family="Liberation Sans, sans-serif" font-size="9.0">(c)</text>
<text x="258.2" y="153.4" font-family="Liberation Sans, sans-serif" font-size="9.0">(d)</text>
<text class="lab" transform="translate(8.2,77.8) rotate(-90)" text-anchor="middle" font-family="Liberation Serif, serif" font-size="9.2" textLength="70.5" lengthAdjust="spacing">k/τ (W K<tspan dy="-3.9" font-size="7">-1</tspan><tspan dy="3.9"> m</tspan><tspan dy="-3.9" font-size="7">-1</tspan><tspan dy="3.9"> s</tspan><tspan dy="-3.9" font-size="7">-1</tspan><tspan dy="3.9">)</tspan></text>
<text class="lab" transform="translate(220,77.3) rotate(-90)" text-anchor="middle" font-family="Liberation Serif, serif" font-size="9.2">σ/τ (1/Ω m s)</text>
<text class="lab" transform="translate(17.5,186.6) rotate(-90)" text-anchor="middle" font-family="Liberation Serif, serif" font-size="9.2">S (mV/K)</text>
<text class="lab" transform="translate(224.8,186.3) rotate(-90)" text-anchor="middle" font-family="Liberation Serif, serif" font-size="9.2">ZT</text>
<text transform="translate(79.30,8.30) scale(0.89,1)" text-anchor="end" font-family="Liberation Sans, sans-serif" font-size="10.0">Si</text><line x1="86.2" y1="5.2" x2="110.9" y2="5.2" stroke="#777" stroke-width="1.0"/>
<text transform="translate(79.30,16.60) scale(0.89,1)" text-anchor="end" font-family="Liberation Sans, sans-serif" font-size="10.0">AlSi<tspan dy="2.0" font-size="8.0">6</tspan><tspan dy="-2.0">P-1</tspan></text><line x1="86.2" y1="13.9" x2="110.9" y2="13.9" stroke="#008000" stroke-width="1.2"/>
<text transform="translate(155.00,8.30) scale(0.89,1)" text-anchor="end" font-family="Liberation Sans, sans-serif" font-size="10.0">AlSi<tspan dy="2.0" font-size="8.0">6</tspan><tspan dy="-2.0">P-2</tspan></text><line x1="161.2" y1="5.2" x2="185.9" y2="5.2" stroke="#ff0000" stroke-width="1.2"/>
<text transform="translate(155.00,16.60) scale(0.89,1)" text-anchor="end" font-family="Liberation Sans, sans-serif" font-size="10.0">AlSi<tspan dy="2.0" font-size="8.0">6</tspan><tspan dy="-2.0">P-3</tspan></text><line x1="161.2" y1="13.9" x2="185.9" y2="13.9" stroke="#0000ff" stroke-width="1.2"/>
</svg>
</body></html>
